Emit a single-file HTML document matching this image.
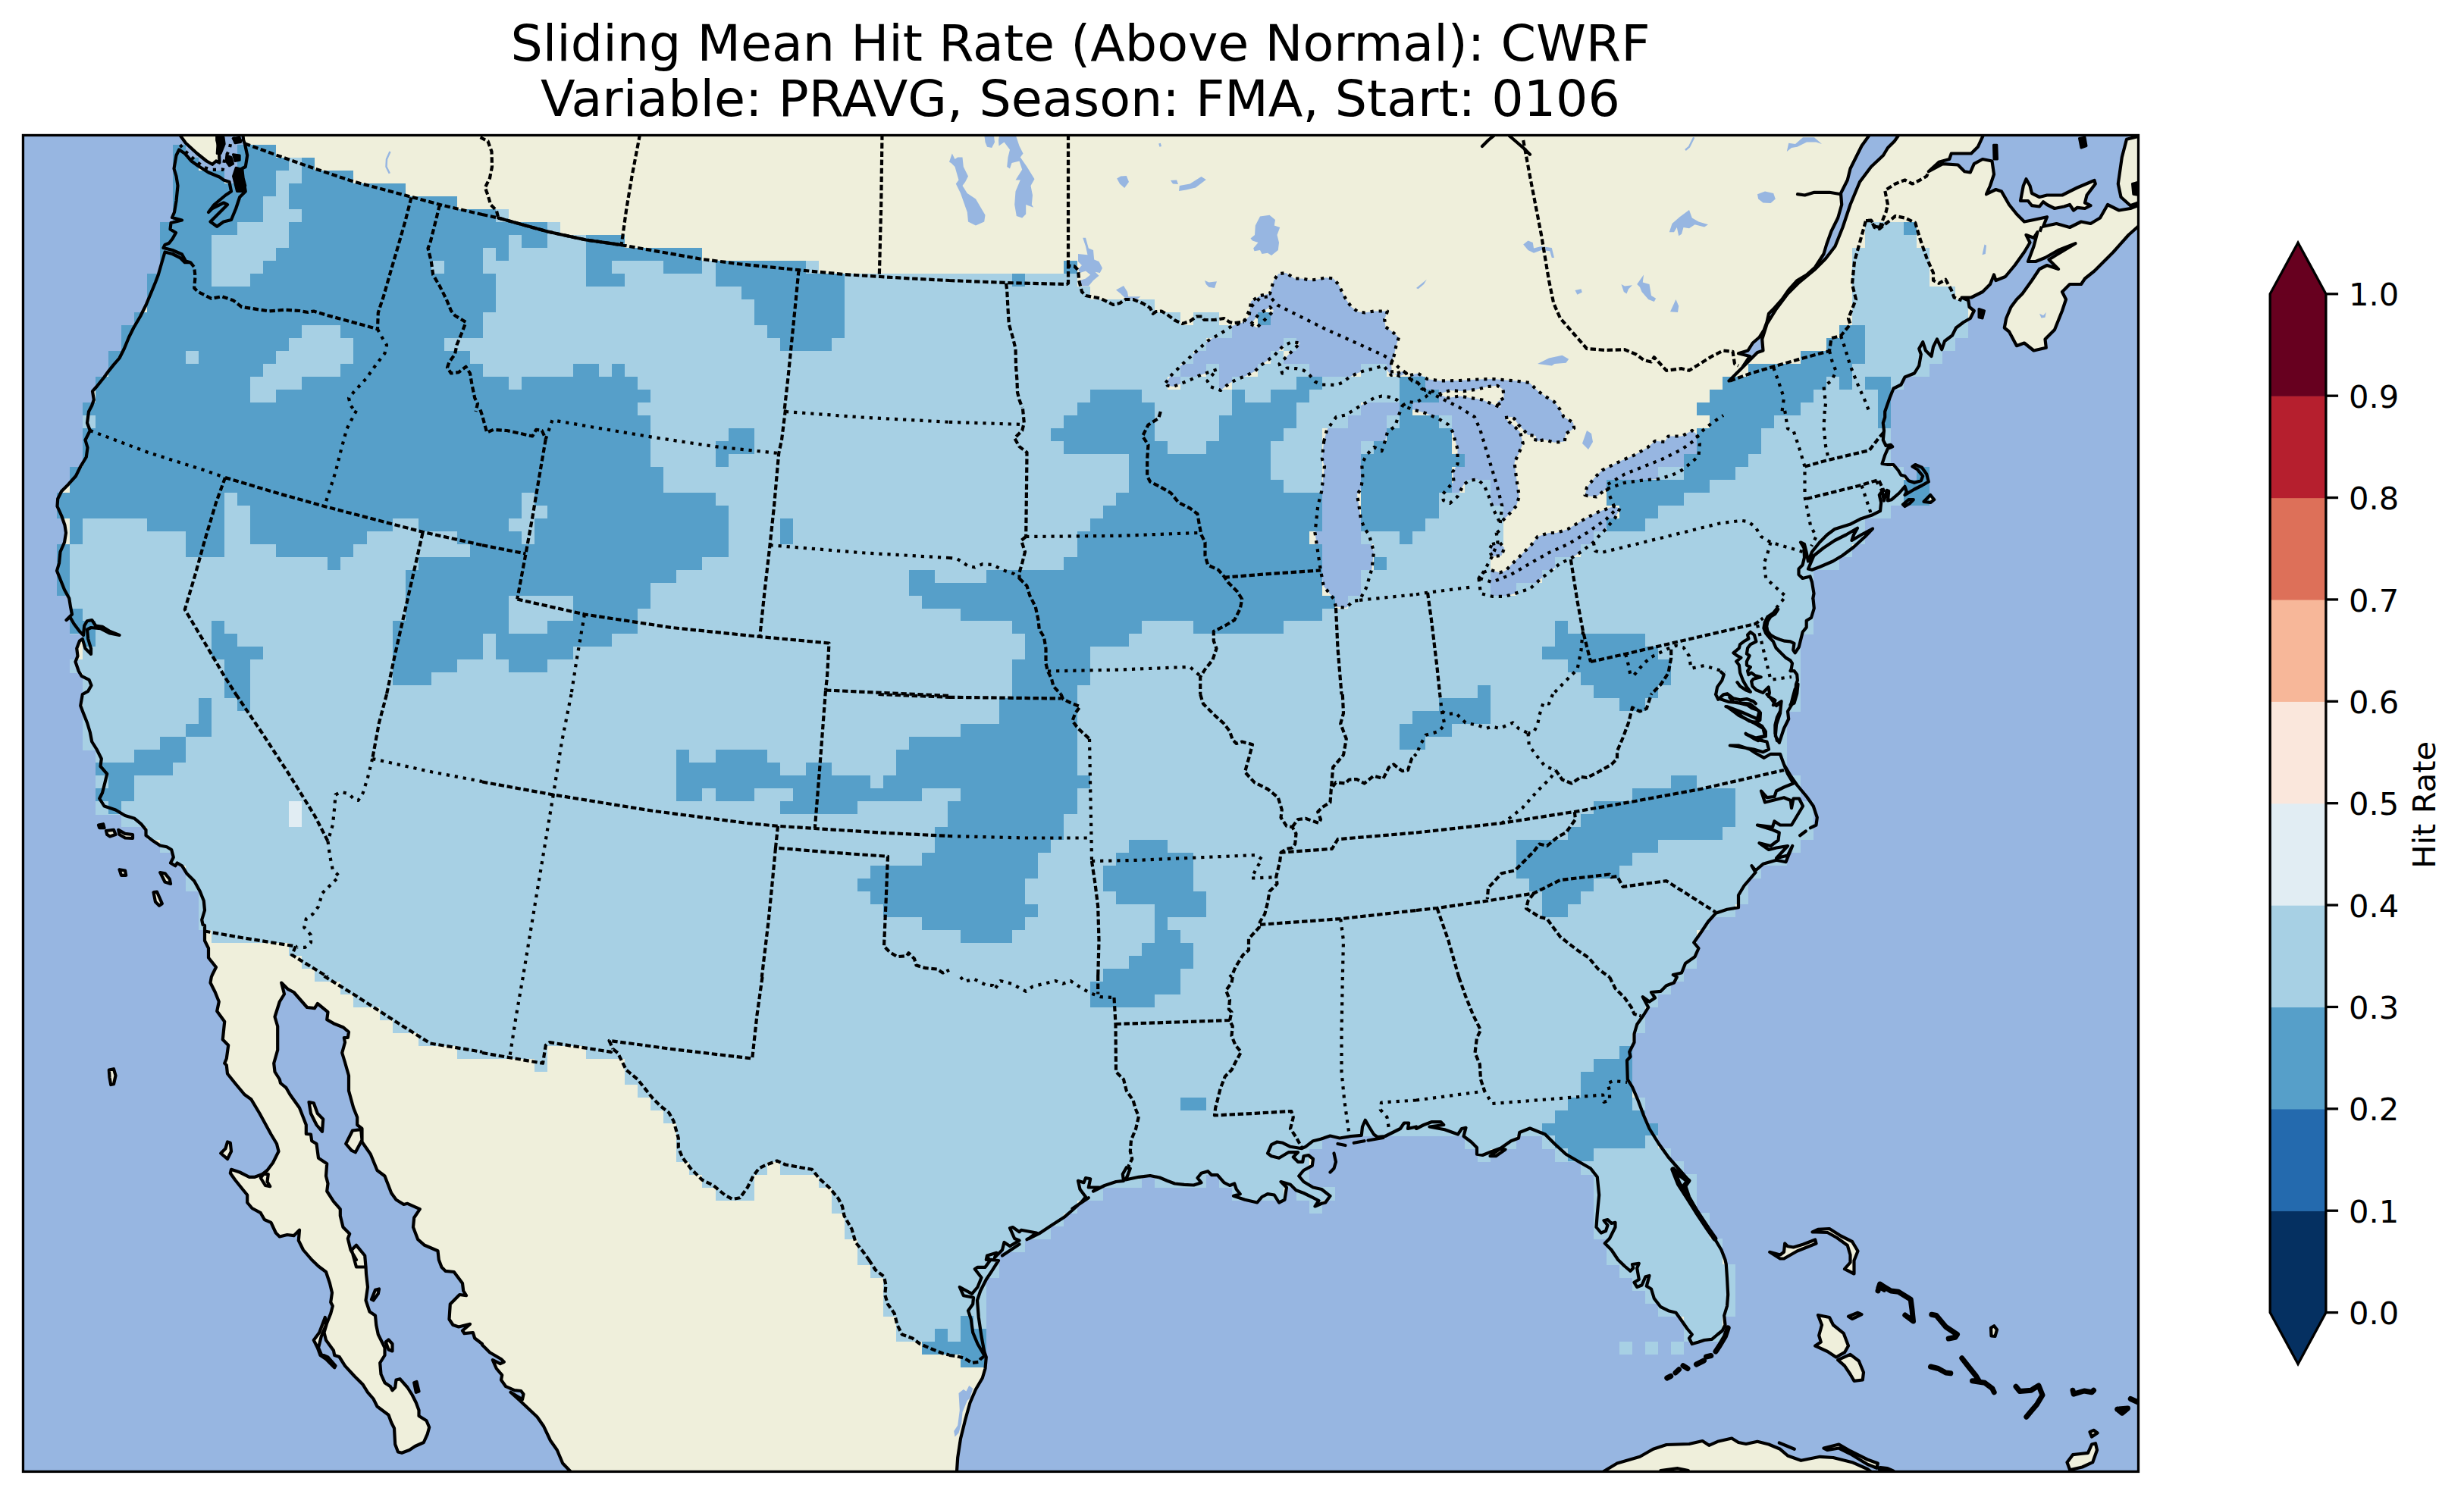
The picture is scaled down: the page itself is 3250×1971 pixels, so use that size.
<!DOCTYPE html>
<html><head><meta charset="utf-8"><title>Sliding Mean Hit Rate</title>
<style>
html,body{margin:0;padding:0;background:#fff;}
body{width:3250px;height:1971px;overflow:hidden;}
svg{display:block;}
text{font-family:"DejaVu Sans","Liberation Sans",sans-serif;fill:#000;}
.coast{fill:none;stroke:#000;stroke-width:4.2;stroke-linejoin:round;stroke-linecap:round;}
.state{fill:none;stroke:#000;stroke-width:4.2;stroke-dasharray:4.2 6.9;stroke-linejoin:round;}
.border{fill:none;stroke:#000;stroke-width:4.2;stroke-dasharray:7.4 3.65;stroke-linejoin:round;}
</style></head><body>
<svg width="3250" height="1971" viewBox="0 0 3250 1971">
<rect x="0" y="0" width="3250" height="1971" fill="#fff"/>
<text x="1425" y="80" font-size="66.67" text-anchor="middle">Sliding Mean Hit Rate (Above Normal): CWRF</text>
<text x="1425" y="153" font-size="66.67" text-anchor="middle">Variable: PRAVG, Season: FMA, Start: 0106</text>
<defs><clipPath id="mapclip"><rect x="30.45" y="178.45" width="2790.05" height="1763.0"/></clipPath></defs>
<g clip-path="url(#mapclip)">
<rect x="30.45" y="178.45" width="2790.05" height="1763.0" fill="#97b6e1"/>
<path d="M320.0 175.0 L321.2 185.0 L323.0 190.0 L326.2 205.0 L323.8 220.0 L316.2 223.8 L318.8 232.5 L322.5 245.0 L323.8 252.5 L316.2 260.0 L311.2 275.0 L305.0 290.0 L295.0 292.5 L286.2 298.8 L277.5 292.5 L285.0 285.0 L300.0 270.0 L295.0 267.5 L280.0 275.0 L275.0 280.0 L282.5 270.0 L297.5 257.5 L305.0 252.5 L302.5 240.0 L295.0 237.5 L290.0 233.8 L275.0 227.5 L261.2 218.8 L252.5 212.5 L243.8 202.5 L236.2 197.5 L232.5 205.0 L229.5 222.5 L232.5 232.5 L234.5 245.0 L232.5 265.0 L230.0 280.0 L227.0 287.0 L240.0 290.5 L225.5 294.0 L224.5 302.5 L232.0 307.0 L227.5 315.0 L223.0 320.8 L217.5 323.0 L215.5 327.0 L227.5 330.0 L240.0 335.5 L245.0 344.5 L251.2 346.2 L243.8 346.2 L237.5 340.0 L227.5 335.0 L217.5 332.5 L213.8 345.0 L208.8 362.5 L205.0 372.5 L198.8 387.5 L192.5 402.5 L185.0 417.5 L176.2 432.5 L170.0 445.0 L163.8 460.0 L157.5 472.5 L150.0 481.2 L143.8 488.8 L137.5 497.5 L127.5 510.0 L122.0 516.2 L123.8 527.5 L121.2 535.0 L117.0 543.0 L117.0 543.0 L115.0 558.0 L118.8 568.0 L112.5 580.5 L115.5 590.5 L113.8 603.0 L106.2 615.5 L100.0 628.0 L90.0 639.2 L81.2 648.0 L76.2 658.0 L75.5 668.0 L81.2 680.5 L85.5 693.0 L87.0 703.0 L85.0 715.5 L79.5 728.0 L78.0 743.0 L75.0 753.0 L80.0 765.5 L85.0 778.0 L91.2 789.2 L93.0 800.5 L95.0 810.5 L87.5 818.0 L92.5 814.2 L97.5 823.0 L105.0 833.0 L110.0 838.0 L111.2 825.5 L115.0 819.2 L121.2 818.0 L126.2 825.5 L135.0 826.8 L145.0 833.0 L157.5 838.0 L145.0 835.5 L132.5 829.2 L120.0 828.0 L115.0 830.5 L116.2 843.0 L120.0 855.5 L120.0 863.0 L112.5 855.5 L108.8 843.0 L105.0 845.5 L101.2 855.5 L102.5 865.5 L99.5 873.0 L103.8 885.5 L107.5 891.8 L117.5 896.8 L120.5 904.2 L116.2 911.8 L108.8 916.0 L108.8 916.0 L106.2 931.0 L110.0 941.0 L115.0 953.5 L118.8 966.0 L121.2 978.5 L127.5 988.5 L133.8 1001.0 L132.5 1011.0 L141.2 1021.0 L138.8 1031.0 L135.0 1046.0 L131.2 1053.5 L137.5 1063.5 L152.5 1068.5 L165.0 1076.0 L177.5 1079.8 L186.2 1087.2 L192.5 1094.8 L192.5 1102.2 L202.5 1109.8 L211.2 1115.5 L220.0 1117.2 L226.2 1121.0 L228.8 1131.0 L225.0 1138.5 L231.2 1142.2 L233.8 1138.5 L240.0 1142.2 L246.2 1152.2 L256.2 1162.2 L263.8 1176.0 L268.8 1188.5 L270.0 1201.0 L266.2 1213.5 L267.5 1219.8 L270.0 1221.0 L270.0 1241.0 L275.0 1251.0 L275.0 1263.5 L285.0 1276.0 L280.0 1286.0 L278.8 1289.0 L278.8 1289.0 L277.5 1296.5 L283.8 1309.0 L288.8 1321.5 L286.2 1334.0 L296.2 1347.8 L293.8 1371.5 L301.2 1379.0 L298.8 1396.5 L296.2 1402.8 L298.8 1405.2 L300.0 1416.5 L310.0 1429.0 L322.5 1444.0 L331.2 1450.2 L342.5 1469.0 L357.5 1496.5 L365.0 1509.0 L367.5 1519.0 L360.0 1534.0 L352.5 1544.0 L346.2 1549.0 L336.2 1552.8 L328.8 1552.8 L316.2 1546.5 L305.0 1542.8 L303.8 1547.8 L310.0 1556.5 L320.0 1569.0 L326.2 1576.5 L326.2 1586.5 L332.5 1594.0 L343.8 1600.2 L348.8 1609.0 L357.5 1612.8 L363.8 1626.5 L368.8 1631.5 L378.8 1629.0 L387.5 1630.2 L395.0 1622.8 L393.8 1636.5 L400.0 1649.0 L411.2 1662.0 L411.2 1662.0 L420.0 1670.5 L430.0 1678.0 L435.0 1693.0 L438.0 1705.5 L436.2 1718.0 L438.8 1723.0 L436.2 1733.0 L431.2 1745.5 L427.5 1758.0 L430.0 1768.0 L440.0 1781.8 L441.2 1788.0 L447.5 1790.0 L455.0 1801.8 L467.5 1815.5 L478.8 1826.8 L485.0 1836.8 L492.5 1845.5 L497.5 1855.5 L512.5 1866.8 L516.2 1876.8 L520.0 1884.2 L521.2 1905.5 L525.0 1915.5 L530.0 1916.8 L540.0 1913.0 L547.5 1908.0 L558.8 1903.0 L563.8 1891.8 L566.2 1883.0 L562.5 1874.2 L552.5 1868.0 L552.5 1860.5 L548.8 1850.5 L543.8 1840.5 L537.5 1830.5 L527.5 1819.2 L522.5 1820.5 L521.2 1830.5 L517.5 1834.2 L515.0 1829.2 L507.5 1824.2 L502.5 1813.0 L501.2 1798.0 L507.5 1788.0 L507.5 1778.0 L503.8 1770.5 L498.8 1760.5 L496.2 1748.0 L495.0 1735.5 L487.5 1730.5 L482.5 1715.5 L485.0 1698.0 L483.0 1680.5 L482.5 1670.5 L470.0 1662.0 L462.5 1649.0 L458.8 1634.0 L461.2 1627.8 L452.5 1619.0 L448.8 1604.0 L448.8 1595.2 L440.0 1585.2 L431.2 1571.5 L432.5 1561.5 L430.0 1551.5 L431.2 1535.2 L420.0 1527.8 L417.5 1509.0 L411.2 1505.2 L410.0 1496.5 L403.8 1496.0 L403.8 1484.0 L395.0 1461.5 L382.5 1444.0 L377.5 1435.2 L370.0 1429.0 L368.8 1424.0 L362.5 1414.0 L361.2 1402.8 L366.2 1385.2 L366.2 1354.0 L362.5 1341.5 L368.8 1321.5 L375.0 1311.5 L371.2 1296.5 L380.0 1305.2 L387.5 1309.0 L405.0 1329.0 L415.0 1330.2 L418.8 1324.0 L432.5 1335.2 L431.2 1345.2 L440.0 1350.2 L452.5 1355.2 L460.0 1361.5 L458.8 1369.0 L453.8 1369.0 L455.0 1375.2 L451.2 1389.0 L455.0 1401.5 L460.0 1419.0 L460.0 1439.0 L466.2 1461.5 L471.2 1474.0 L471.2 1484.0 L477.5 1489.0 L477.5 1506.5 L488.8 1522.8 L497.5 1544.0 L507.5 1551.5 L516.2 1574.0 L522.5 1582.8 L532.5 1589.0 L537.5 1587.8 L553.8 1595.2 L546.2 1606.5 L545.0 1619.0 L551.2 1635.2 L560.0 1642.8 L577.5 1650.2 L578.8 1662.0 L578.8 1662.0 L582.5 1671.8 L587.5 1676.8 L598.8 1678.0 L610.0 1693.0 L611.2 1703.0 L615.0 1709.2 L606.2 1708.0 L593.8 1720.5 L592.5 1740.5 L597.5 1748.0 L605.0 1750.5 L620.0 1746.8 L610.0 1755.5 L612.5 1759.2 L623.8 1758.0 L626.2 1765.5 L636.0 1773.0 L636.0 1774.2 L646.0 1784.2 L661.0 1793.0 L664.8 1796.8 L659.8 1799.2 L649.8 1794.2 L654.8 1805.5 L662.2 1814.2 L661.0 1820.5 L667.2 1829.2 L678.5 1834.2 L687.2 1835.0 L690.5 1839.2 L689.0 1846.2 L673.5 1836.8 L686.0 1848.0 L708.5 1869.2 L717.2 1881.8 L726.0 1900.5 L734.8 1913.0 L742.2 1930.5 L752.2 1941.0 L761.0 1953.0 L1260.8 1953.0 L1262.0 1941.0 L1263.2 1923.0 L1267.0 1898.0 L1273.2 1873.0 L1279.5 1850.5 L1287.0 1833.0 L1295.8 1818.0 L1299.5 1805.5 L1300.8 1790.5 L1298.2 1783.0 L1294.5 1763.0 L1290.8 1738.0 L1289.0 1715.5 L1293.2 1703.0 L1300.8 1688.0 L1308.2 1676.8 L1317.0 1663.0 L1307.0 1661.8 L1300.8 1662.0 L1302.0 1656.5 L1314.5 1652.8 L1312.0 1659.0 L1322.0 1649.0 L1324.5 1639.0 L1332.0 1644.0 L1344.5 1636.5 L1338.2 1634.0 L1332.0 1620.2 L1335.8 1619.0 L1344.5 1625.2 L1347.0 1622.8 L1367.0 1626.5 L1357.0 1634.0 L1372.0 1626.5 L1387.0 1616.5 L1404.5 1605.2 L1414.5 1596.5 L1427.0 1585.2 L1432.0 1579.0 L1424.5 1569.0 L1422.0 1557.8 L1429.5 1560.2 L1432.0 1554.0 L1438.2 1555.2 L1435.8 1566.5 L1449.5 1566.5 L1442.0 1571.5 L1457.0 1564.0 L1472.0 1559.0 L1482.0 1557.8 L1480.8 1549.0 L1485.8 1540.2 L1490.8 1541.5 L1487.0 1551.5 L1484.5 1556.5 L1502.0 1552.8 L1517.0 1551.0 L1529.5 1553.5 L1539.5 1557.8 L1549.5 1561.5 L1562.0 1562.8 L1574.5 1563.5 L1584.5 1560.2 L1579.5 1554.0 L1584.5 1547.8 L1593.2 1545.2 L1598.2 1550.2 L1605.8 1550.2 L1614.5 1560.2 L1622.0 1564.0 L1628.2 1561.5 L1630.8 1569.0 L1635.8 1575.2 L1627.0 1577.8 L1642.0 1582.8 L1658.2 1586.5 L1664.5 1579.0 L1672.0 1575.2 L1680.8 1576.5 L1687.0 1586.5 L1694.5 1582.8 L1697.0 1566.5 L1689.5 1559.0 L1702.0 1562.8 L1709.5 1570.2 L1719.5 1574.0 L1732.0 1580.2 L1739.5 1584.0 L1734.5 1591.5 L1743.2 1587.8 L1748.2 1586.5 L1754.5 1577.8 L1743.2 1569.0 L1732.0 1566.5 L1719.5 1559.0 L1713.2 1551.5 L1719.5 1544.0 L1730.8 1537.8 L1732.0 1529.0 L1725.8 1524.0 L1719.5 1525.2 L1718.2 1532.8 L1712.0 1532.8 L1705.8 1526.5 L1712.0 1520.2 L1699.5 1520.2 L1687.0 1527.8 L1677.0 1525.2 L1672.0 1521.5 L1677.0 1510.2 L1684.5 1506.5 L1692.0 1507.8 L1702.0 1512.8 L1717.0 1515.2 L1722.0 1512.8 L1732.0 1505.2 L1742.0 1502.8 L1754.5 1498.5 L1767.0 1501.5 L1782.0 1499.0 L1795.8 1497.8 L1797.0 1486.5 L1800.8 1477.8 L1805.8 1486.5 L1812.0 1496.5 L1817.0 1500.2 L1827.0 1499.0 L1837.0 1494.0 L1847.0 1489.0 L1852.0 1481.5 L1858.2 1481.5 L1857.0 1489.0 L1868.0 1486.5 L1868.0 1489.0 L1878.0 1484.0 L1888.0 1480.2 L1900.5 1480.2 L1904.2 1484.0 L1885.5 1486.5 L1905.5 1490.2 L1923.0 1496.5 L1928.0 1489.0 L1933.5 1487.8 L1930.5 1499.0 L1940.5 1506.5 L1948.0 1514.0 L1948.0 1522.8 L1955.5 1524.0 L1968.0 1519.0 L1978.0 1515.2 L1985.5 1516.5 L1973.0 1525.2 L1965.5 1525.2 L1980.5 1514.0 L1993.0 1505.2 L2003.0 1501.5 L2004.2 1494.0 L2018.0 1488.5 L2038.0 1496.5 L2050.5 1509.0 L2065.5 1522.8 L2080.5 1531.5 L2098.0 1541.5 L2106.8 1552.8 L2109.2 1576.5 L2106.8 1601.5 L2105.5 1619.0 L2111.8 1626.5 L2118.0 1624.0 L2120.5 1616.5 L2115.5 1610.2 L2120.5 1609.0 L2125.5 1614.0 L2130.5 1612.8 L2130.5 1619.0 L2123.0 1634.0 L2116.8 1640.2 L2125.5 1649.0 L2134.2 1662.0 L2134.2 1662.0 L2143.0 1670.5 L2150.5 1676.8 L2154.2 1673.0 L2153.0 1668.0 L2161.8 1666.8 L2159.2 1673.0 L2161.8 1688.0 L2155.5 1691.8 L2159.2 1698.0 L2165.5 1695.5 L2170.5 1684.2 L2175.5 1683.0 L2171.8 1696.8 L2178.0 1700.5 L2181.8 1713.0 L2190.5 1724.2 L2200.5 1729.2 L2210.5 1731.8 L2216.8 1740.5 L2225.5 1753.0 L2231.8 1760.5 L2228.0 1765.5 L2231.8 1773.0 L2240.5 1770.5 L2248.0 1768.0 L2258.0 1766.8 L2265.5 1760.5 L2271.8 1755.5 L2275.5 1748.0 L2274.2 1735.5 L2278.0 1723.0 L2279.2 1708.0 L2278.0 1685.5 L2276.8 1668.0 L2275.5 1662.0 L2270.5 1649.0 L2263.0 1636.5 L2253.0 1621.5 L2238.0 1596.5 L2228.0 1579.0 L2223.0 1564.0 L2228.0 1557.8 L2218.0 1546.5 L2200.5 1526.5 L2188.0 1509.0 L2175.5 1489.0 L2168.0 1471.5 L2160.5 1451.5 L2153.0 1434.0 L2146.8 1424.0 L2146.0 1399.0 L2150.5 1394.0 L2149.2 1387.8 L2155.5 1375.2 L2155.5 1364.0 L2159.2 1351.5 L2168.0 1339.0 L2174.2 1329.0 L2166.8 1315.2 L2175.5 1321.5 L2183.0 1316.5 L2178.0 1309.0 L2190.5 1307.8 L2198.0 1300.2 L2208.0 1296.5 L2211.8 1289.0 L2206.8 1286.0 L2218.0 1283.5 L2223.0 1271.0 L2235.5 1262.2 L2240.5 1251.0 L2234.2 1243.5 L2243.0 1231.0 L2253.0 1216.0 L2263.0 1204.8 L2278.0 1199.8 L2293.0 1197.2 L2293.0 1181.0 L2300.5 1168.5 L2315.5 1151.0 L2310.5 1142.2 L2315.5 1148.5 L2325.5 1139.8 L2343.0 1134.8 L2355.5 1137.2 L2364.2 1116.0 L2358.0 1128.5 L2343.0 1132.2 L2358.0 1116.0 L2343.0 1118.5 L2333.0 1121.0 L2320.5 1112.2 L2335.5 1116.0 L2345.5 1108.5 L2346.8 1098.5 L2338.0 1094.8 L2318.0 1088.5 L2338.0 1091.0 L2340.5 1083.5 L2348.0 1088.5 L2363.0 1088.5 L2370.5 1076.0 L2378.0 1063.5 L2373.0 1053.5 L2365.5 1053.5 L2363.0 1066.0 L2361.8 1056.0 L2353.0 1052.2 L2343.0 1054.8 L2328.0 1058.5 L2323.0 1043.5 L2330.5 1052.2 L2340.5 1051.0 L2343.0 1043.5 L2353.0 1038.5 L2365.5 1033.5 L2358.0 1021.0 L2353.0 1008.5 L2346.8 979.8 L2353.0 961.0 L2359.2 948.5 L2358.0 938.5 L2365.5 926.0 L2368.0 916.0 L2368.2 916.2 L2369.0 902.7 L2370.9 897.6 L2370.2 890.1 L2366.5 885.1 L2361.5 885.1 L2367.7 861.3 L2372.7 853.8 L2375.2 843.8 L2377.7 833.8 L2382.7 827.6 L2382.7 818.8 L2389.0 815.0 L2392.8 802.5 L2391.5 790.0 L2391.2 790.0 L2392.5 783.0 L2390.0 768.0 L2387.5 760.5 L2377.5 763.0 L2372.5 758.0 L2372.5 750.5 L2377.5 745.5 L2380.0 735.5 L2379.5 723.0 L2375.0 715.5 L2380.0 718.0 L2382.5 728.0 L2385.0 740.5 L2390.0 728.0 L2400.0 715.5 L2410.0 705.5 L2420.0 698.0 L2440.0 691.8 L2455.0 684.2 L2470.0 679.2 L2480.0 674.2 L2481.2 663.0 L2478.8 653.0 L2482.5 648.0 L2485.0 660.5 L2488.8 646.8 L2491.2 648.0 L2490.0 660.5 L2495.0 659.2 L2505.0 650.5 L2512.5 641.8 L2515.0 649.2 L2512.5 653.0 L2525.0 645.5 L2535.0 640.5 L2543.8 635.5 L2541.2 625.5 L2535.0 616.8 L2526.2 613.0 L2522.5 615.5 L2528.8 619.2 L2536.2 628.0 L2533.8 634.2 L2525.0 636.8 L2517.5 634.2 L2512.5 628.0 L2507.5 626.8 L2503.8 620.5 L2497.5 613.0 L2490.0 613.0 L2482.5 611.8 L2486.2 600.5 L2490.0 591.8 L2496.2 589.2 L2493.8 586.8 L2487.5 588.0 L2483.8 580.5 L2485.0 568.0 L2483.8 558.0 L2486.2 550.5 L2486.2 543.0 L2486.2 543.0 L2492.5 525.0 L2497.5 512.5 L2507.5 507.5 L2512.5 497.5 L2525.0 492.5 L2531.2 482.5 L2533.8 467.5 L2531.2 460.0 L2536.2 451.2 L2540.0 462.5 L2547.5 470.0 L2550.0 457.5 L2555.0 447.5 L2561.2 461.2 L2565.0 450.0 L2575.0 442.5 L2580.0 432.5 L2590.0 425.0 L2598.8 420.0 L2603.8 410.0 L2597.5 405.0 L2596.2 396.2 L2587.5 392.5 L2600.0 392.5 L2615.0 385.0 L2625.0 375.0 L2630.0 362.5 L2632.5 370.0 L2645.0 365.0 L2657.5 350.0 L2670.0 332.5 L2677.5 320.0 L2672.5 310.0 L2682.5 313.8 L2687.5 306.2 L2682.5 325.0 L2675.0 345.0 L2685.0 345.0 L2697.5 340.0 L2715.0 330.0 L2737.5 321.2 L2712.5 336.2 L2702.5 342.5 L2715.0 355.0 L2700.0 350.0 L2690.0 355.0 L2680.0 370.0 L2667.5 387.5 L2660.0 395.0 L2652.5 405.0 L2646.2 420.0 L2643.8 432.5 L2650.0 437.5 L2660.0 456.2 L2670.0 452.5 L2682.5 462.5 L2698.8 458.8 L2697.5 447.5 L2710.0 435.0 L2720.0 410.0 L2725.0 395.0 L2720.0 385.0 L2730.0 375.0 L2745.0 375.0 L2750.0 367.5 L2762.5 357.5 L2787.5 332.5 L2807.5 310.0 L2830.0 290.0 L2830.0 267.5 L2810.0 275.0 L2795.0 277.5 L2780.0 270.0 L2770.0 287.5 L2757.5 295.0 L2745.0 292.5 L2730.0 300.0 L2712.5 295.0 L2695.0 298.8 L2700.0 286.2 L2682.5 290.0 L2670.0 292.5 L2660.0 282.5 L2650.0 270.0 L2640.0 252.5 L2632.5 250.0 L2620.0 256.2 L2625.0 245.0 L2630.0 230.0 L2627.5 212.5 L2615.0 210.0 L2603.8 216.2 L2598.8 227.5 L2591.2 226.2 L2582.5 217.5 L2562.5 216.2 L2543.8 226.2 L2557.5 213.8 L2571.2 210.0 L2573.8 202.5 L2600.0 202.5 L2608.8 193.8 L2617.5 175.0 L2507.5 173.8 L2498.8 186.2 L2490.0 195.0 L2484.0 205.0 L2468.0 220.0 L2453.0 240.0 L2440.5 270.0 L2430.5 300.0 L2420.5 325.0 L2408.0 341.2 L2393.0 356.2 L2373.0 372.5 L2358.0 387.5 L2343.0 407.5 L2330.5 427.5 L2324.2 447.5 L2325.5 462.5 L2318.0 465.0 L2303.0 480.0 L2280.5 502.5 L2280.5 502.5 L2298.0 485.0 L2308.0 470.0 L2293.0 466.2 L2305.5 462.5 L2311.8 452.5 L2320.5 445.0 L2326.8 435.0 L2330.5 425.0 L2333.0 413.8 L2340.5 406.2 L2350.5 395.0 L2359.2 382.5 L2370.5 370.0 L2383.0 362.5 L2394.2 352.5 L2405.5 335.0 L2409.2 322.5 L2415.5 305.0 L2424.2 287.5 L2429.2 270.0 L2428.0 255.0 L2436.8 237.5 L2440.5 222.5 L2448.0 207.5 L2455.5 192.5 L2468.0 175.0Z" fill="#efefdb"/>
<path d="M235.0 175.0 L245.0 188.8 L260.0 202.5 L272.5 212.5 L280.0 216.8 L285.0 212.5 L289.5 214.5 L288.8 195.0 L286.2 185.0 L286.2 175.0Z" fill="#efefdb"/>
<path d="M2665.0 265.0 L2668.8 245.0 L2672.5 236.2 L2677.5 245.0 L2680.0 255.0 L2690.0 260.0 L2700.0 257.5 L2720.0 257.5 L2740.0 247.5 L2762.5 238.0 L2763.8 242.5 L2752.5 257.5 L2750.0 267.5 L2757.5 271.2 L2750.0 275.0 L2740.0 273.8 L2735.0 277.5 L2730.0 270.0 L2722.5 272.5 L2710.0 275.0 L2700.0 270.0 L2695.0 266.2 L2690.0 272.5 L2680.0 271.2 L2675.0 265.0Z" fill="#efefdb"/>
<path d="M2830.0 177.5 L2805.0 183.8 L2798.8 207.5 L2793.8 242.5 L2797.5 260.0 L2810.0 271.2 L2830.0 263.8Z" fill="#efefdb"/>
<path d="M2105.5 1953.0 L2115.5 1941.0 L2133.0 1930.5 L2163.0 1921.8 L2180.5 1911.8 L2198.0 1906.0 L2228.0 1905.0 L2245.5 1901.0 L2254.2 1906.8 L2265.5 1901.8 L2284.2 1897.5 L2293.0 1903.0 L2303.0 1905.0 L2318.0 1901.8 L2333.0 1905.5 L2348.0 1911.8 L2358.0 1920.5 L2375.5 1926.8 L2400.5 1921.8 L2418.0 1923.0 L2443.0 1929.2 L2463.0 1938.0 L2473.0 1945.5 L2493.0 1953.0Z" fill="#efefdb"/>
<path d="M2405.5 1910.5 L2425.5 1905.5 L2440.5 1914.2 L2463.0 1925.5 L2476.8 1930.5 L2475.5 1936.8 L2463.0 1931.8 L2440.5 1918.0 L2425.5 1910.5 L2410.5 1913.0Z" fill="#efefdb"/>
<path d="M2385.0 750.5 L2392.5 733.0 L2405.0 723.0 L2420.0 713.0 L2435.0 705.5 L2450.0 696.8 L2445.0 705.5 L2442.5 713.0 L2455.0 705.5 L2470.0 697.5 L2460.0 708.0 L2445.0 721.8 L2430.0 733.0 L2417.5 740.5 L2400.0 748.0 L2390.0 751.8Z" fill="#efefdb"/>
<path d="M2334.2 1651.8 L2348.0 1660.5 L2353.0 1660.5 L2370.5 1650.5 L2395.5 1640.5 L2394.2 1635.5 L2378.0 1641.8 L2365.5 1645.5 L2358.0 1644.2 L2354.2 1640.5 L2353.0 1651.8 L2348.0 1655.5Z" fill="#efefdb"/>
<path d="M2390.5 1625.5 L2398.0 1621.8 L2413.0 1621.0 L2428.0 1630.5 L2443.0 1638.0 L2450.5 1650.5 L2445.5 1663.0 L2445.5 1680.5 L2433.0 1674.2 L2440.5 1665.5 L2440.5 1655.5 L2436.8 1643.0 L2423.0 1633.0 L2410.5 1626.0 L2395.5 1625.5Z" fill="#efefdb"/>
<path d="M2398.0 1735.0 L2413.0 1738.0 L2418.0 1748.0 L2431.8 1759.2 L2438.0 1775.5 L2433.0 1784.2 L2421.8 1790.5 L2410.5 1783.0 L2394.2 1775.5 L2401.8 1770.5 L2399.2 1761.8 L2403.0 1748.0Z" fill="#efefdb"/>
<path d="M2424.2 1794.2 L2440.5 1786.8 L2451.8 1795.5 L2458.0 1810.5 L2456.8 1820.5 L2445.5 1821.8 L2440.5 1813.0 L2433.0 1801.8Z" fill="#efefdb"/>
<path d="M2438.0 1736.8 L2450.5 1731.8 L2455.5 1734.2 L2443.0 1740.0Z" fill="#efefdb"/>
<path d="M2476.8 1698.0 L2480.5 1693.0 L2485.5 1696.8 L2485.5 1703.0Z" fill="#efefdb"/>
<path d="M143.8 1411.5 L150.0 1410.2 L152.5 1419.0 L150.0 1430.2 L146.2 1431.0 L144.5 1421.5Z" fill="#efefdb"/>
<path d="M291.2 1521.5 L297.5 1515.2 L300.0 1506.5 L303.8 1507.8 L305.0 1519.0 L300.0 1529.0Z" fill="#efefdb"/>
<path d="M407.5 1454.0 L413.8 1455.2 L418.8 1469.0 L426.2 1476.5 L425.0 1492.8 L417.5 1484.0 L410.0 1469.0Z" fill="#efefdb"/>
<path d="M456.2 1509.0 L465.0 1491.5 L476.2 1490.2 L477.5 1504.0 L468.8 1520.2 L463.8 1517.8Z" fill="#efefdb"/>
<path d="M343.8 1554.0 L347.5 1549.0 L353.8 1549.0 L352.5 1559.0 L356.2 1565.2 L350.0 1564.0Z" fill="#efefdb"/>
<path d="M463.8 1649.0 L470.0 1642.8 L481.2 1656.5 L482.5 1671.5 L470.0 1671.5Z" fill="#efefdb"/>
<path d="M413.8 1768.0 L421.2 1758.0 L428.8 1738.0 L430.0 1748.0 L423.8 1763.0 L420.0 1778.0 L423.8 1786.8 L432.5 1790.5 L442.5 1801.8 L441.2 1804.2 L430.0 1793.0 L422.5 1788.0 L418.8 1778.0Z" fill="#efefdb"/>
<path d="M490.0 1714.2 L495.0 1701.8 L500.0 1700.5 L498.8 1706.8 L492.5 1715.5Z" fill="#efefdb"/>
<path d="M508.8 1770.5 L512.5 1767.5 L517.5 1773.0 L517.5 1782.5 L512.5 1780.5Z" fill="#efefdb"/>
<path d="M546.2 1824.2 L549.5 1823.0 L552.5 1835.5 L548.8 1836.8Z" fill="#efefdb"/>
<path d="M2510.0 665.5 L2517.5 659.2 L2523.8 659.2 L2518.8 664.2 L2512.5 668.0Z" fill="#efefdb"/>
<path d="M2537.5 661.8 L2546.2 653.0 L2551.2 659.2 L2546.2 663.0Z" fill="#efefdb"/>
<path d="M2626.0 1751.8 L2630.2 1749.2 L2634.0 1754.2 L2631.5 1763.0 L2626.5 1762.5Z" fill="#efefdb"/>
<path d="M2756.5 1889.2 L2761.5 1886.8 L2766.5 1890.5 L2759.0 1895.5Z" fill="#efefdb"/>
<path d="M2726.5 1929.2 L2734.0 1919.2 L2744.0 1918.0 L2754.0 1916.8 L2759.0 1905.5 L2764.0 1904.2 L2766.0 1913.0 L2760.2 1929.2 L2746.5 1935.5 L2730.2 1939.2Z" fill="#efefdb"/>
<path d="M130.0 1088.5 L136.2 1087.2 L137.5 1092.2 L131.2 1092.2Z" fill="#efefdb"/>
<path d="M140.0 1096.0 L150.0 1094.8 L152.5 1101.0 L145.0 1103.5 L141.2 1101.0Z" fill="#efefdb"/>
<path d="M156.2 1094.8 L165.0 1099.8 L175.0 1101.0 L175.0 1106.0 L165.0 1105.5 L157.5 1101.0Z" fill="#efefdb"/>
<path d="M157.5 1147.2 L165.0 1148.5 L166.2 1154.8 L160.0 1154.8Z" fill="#efefdb"/>
<path d="M211.2 1151.0 L217.5 1152.2 L223.8 1159.8 L225.0 1166.0 L217.5 1163.5 L213.8 1156.0Z" fill="#efefdb"/>
<path d="M202.5 1177.2 L207.0 1176.5 L213.8 1192.2 L210.0 1194.8 L205.0 1189.8Z" fill="#efefdb"/>
<path d="M1537.5 505.0 L1545.0 495.0 L1560.0 480.0 L1575.0 466.2 L1592.5 450.0 L1610.0 440.0 L1625.0 430.0 L1637.5 426.2 L1647.5 417.5 L1650.0 397.5 L1662.5 390.0 L1675.0 387.5 L1680.0 370.0 L1686.2 361.2 L1696.2 360.0 L1707.5 367.5 L1717.5 367.5 L1727.5 369.5 L1737.5 368.8 L1748.8 366.2 L1758.8 367.5 L1766.2 376.2 L1771.2 387.5 L1776.2 396.2 L1782.5 405.0 L1791.2 411.2 L1800.0 412.5 L1812.5 410.5 L1830.0 410.5 L1826.2 421.2 L1827.5 431.2 L1836.2 437.5 L1845.0 445.0 L1841.2 457.5 L1838.8 468.8 L1835.0 480.0 L1836.2 492.5 L1846.2 496.2 L1855.0 492.5 L1850.0 490.0 L1835.0 495.0 L1825.0 482.5 L1812.5 486.2 L1800.0 488.8 L1790.0 492.5 L1780.0 497.5 L1770.0 505.0 L1762.5 508.0 L1752.5 507.5 L1743.8 507.5 L1735.0 503.8 L1727.5 495.0 L1720.0 488.8 L1710.0 486.2 L1697.5 485.5 L1691.2 492.5 L1687.5 480.0 L1697.5 470.0 L1715.0 452.5 L1703.8 451.2 L1692.5 456.2 L1680.0 470.0 L1672.5 475.0 L1662.5 482.5 L1655.0 490.0 L1642.5 496.2 L1632.5 500.0 L1622.5 505.0 L1610.0 515.0 L1596.2 510.0 L1592.5 502.5 L1605.0 487.5 L1590.0 492.5 L1580.0 496.2 L1570.0 501.2 L1557.5 506.2 L1547.5 510.0 L1540.0 508.8Z" fill="#97b6e1"/>
<path d="M1746.2 582.5 L1750.0 567.5 L1762.5 550.0 L1775.0 547.5 L1795.0 535.0 L1812.5 525.0 L1822.5 522.5 L1832.5 523.8 L1842.5 527.5 L1850.0 535.0 L1845.0 547.5 L1840.0 562.5 L1830.0 570.0 L1827.5 580.0 L1822.5 595.0 L1812.5 590.0 L1802.5 600.0 L1796.2 612.5 L1797.5 630.0 L1795.0 645.0 L1790.0 652.5 L1792.5 667.5 L1795.0 685.0 L1800.0 697.5 L1805.8 705.5 L1812.0 728.0 L1809.5 750.5 L1802.0 775.5 L1793.2 791.8 L1784.5 793.0 L1775.8 801.8 L1762.0 800.5 L1759.5 790.5 L1745.8 773.0 L1742.0 753.0 L1738.2 728.0 L1734.5 703.0 L1738.2 668.0 L1743.2 648.0 L1747.0 615.5 L1743.8 605.0Z" fill="#97b6e1"/>
<path d="M1860.0 495.0 L1870.0 492.5 L1882.5 500.0 L1900.0 502.5 L1925.0 502.0 L1950.0 500.5 L1970.0 500.0 L1982.5 501.2 L2000.0 502.5 L2017.5 505.0 L2027.5 515.0 L2037.5 522.5 L2050.0 530.0 L2057.5 540.0 L2062.5 550.0 L2075.0 557.5 L2076.2 565.0 L2065.0 572.5 L2063.8 582.5 L2050.0 583.8 L2037.5 580.0 L2025.0 582.5 L2026.2 575.0 L2015.0 573.8 L2010.0 567.5 L2002.5 560.0 L1997.5 552.5 L1993.8 550.0 L1985.0 551.2 L1990.0 556.2 L1997.5 562.5 L2005.0 570.0 L2008.8 585.0 L2002.5 600.0 L1997.5 610.0 L2000.0 630.0 L2003.8 655.0 L2000.0 667.5 L1990.0 678.8 L1983.8 685.0 L1978.8 690.0 L1976.2 685.0 L1970.0 672.5 L1963.8 655.0 L1957.5 640.0 L1948.8 632.5 L1937.5 633.8 L1930.0 640.0 L1922.5 655.0 L1912.5 663.8 L1903.8 660.0 L1902.5 652.5 L1910.0 643.8 L1917.5 635.0 L1916.2 622.5 L1922.5 612.5 L1922.5 592.5 L1916.2 570.0 L1910.0 560.0 L1897.5 552.5 L1880.0 545.0 L1862.5 540.0 L1850.0 535.0 L1857.5 530.0 L1867.5 531.2 L1880.0 523.8 L1890.0 516.2 L1880.0 515.0 L1870.0 505.0 L1862.5 502.5Z" fill="#97b6e1"/>
<path d="M1968.0 718.0 L1978.0 715.5 L1984.2 723.0 L1980.5 733.0 L1968.0 734.2 L1964.2 725.5Z" fill="#97b6e1"/>
<path d="M1950.5 763.0 L1953.0 783.0 L1968.0 786.8 L1985.5 786.8 L1998.0 783.0 L2018.0 776.8 L2033.0 763.0 L2043.0 755.5 L2058.0 743.0 L2071.8 736.8 L2085.5 728.0 L2101.8 715.5 L2110.5 705.5 L2118.0 698.0 L2130.5 683.0 L2136.8 670.5 L2128.0 668.0 L2108.0 675.5 L2093.0 683.0 L2080.5 690.5 L2068.0 698.0 L2053.0 703.0 L2043.0 703.0 L2028.0 708.0 L2020.5 718.0 L2010.5 728.0 L1998.0 740.5 L1985.5 753.0 L1978.0 755.5 L1965.5 751.8 L1955.5 755.5Z" fill="#97b6e1"/>
<path d="M2090.5 653.0 L2094.2 654.2 L2105.5 655.5 L2118.0 645.5 L2143.0 636.8 L2168.0 633.5 L2188.0 631.8 L2205.5 626.8 L2218.0 620.5 L2230.5 610.5 L2240.5 601.8 L2241.8 585.5 L2238.0 573.0 L2231.8 568.0 L2218.0 575.5 L2200.5 575.5 L2195.5 583.0 L2183.0 581.8 L2173.0 590.5 L2155.5 600.5 L2138.0 608.0 L2123.0 615.5 L2113.0 620.5 L2103.0 630.5 L2093.0 643.0Z" fill="#97b6e1"/>
<path d="M1255.8 202.5 L1259.5 210.0 L1263.2 207.5 L1269.5 207.5 L1270.8 220.0 L1277.0 232.5 L1273.2 240.0 L1269.5 245.0 L1275.8 255.0 L1287.0 262.5 L1299.5 283.8 L1298.2 292.5 L1287.0 297.5 L1277.0 292.5 L1275.8 280.0 L1267.0 255.0 L1260.8 242.5 L1264.5 237.5 L1259.5 220.0 L1254.5 215.0 L1252.0 213.8Z" fill="#97b6e1"/>
<path d="M1318.2 177.5 L1339.5 177.5 L1344.5 192.5 L1349.5 202.5 L1345.8 207.5 L1354.5 220.0 L1364.5 236.2 L1359.5 245.0 L1362.0 257.5 L1360.8 270.0 L1363.2 273.8 L1353.2 270.0 L1353.2 282.5 L1348.2 287.5 L1340.8 285.0 L1338.2 270.0 L1339.5 252.5 L1345.8 237.5 L1339.5 237.5 L1348.2 223.8 L1344.5 212.5 L1334.5 215.0 L1332.0 222.5 L1328.2 220.0 L1329.5 207.5 L1332.0 197.5 L1324.5 187.5 L1317.5 192.5 L1317.0 185.0Z" fill="#97b6e1"/>
<path d="M1298.2 177.5 L1310.8 177.5 L1312.0 187.5 L1308.2 195.0 L1302.0 193.8 L1299.5 187.5Z" fill="#97b6e1"/>
<path d="M1473.2 235.5 L1478.2 232.5 L1485.8 232.0 L1489.0 240.0 L1483.2 248.0 L1477.0 242.5Z" fill="#97b6e1"/>
<path d="M1544.0 238.0 L1552.0 237.5 L1554.0 243.0 L1547.0 242.5Z" fill="#97b6e1"/>
<path d="M1555.8 245.0 L1569.5 242.5 L1584.5 233.0 L1590.8 237.0 L1577.0 247.5 L1564.5 250.5 L1555.0 252.0Z" fill="#97b6e1"/>
<path d="M1528.2 189.5 L1530.8 188.8 L1532.0 193.0 L1529.5 193.8Z" fill="#97b6e1"/>
<path d="M1662.0 285.5 L1674.5 283.8 L1682.0 290.0 L1680.8 297.5 L1688.2 300.0 L1684.5 310.0 L1687.0 320.0 L1685.8 330.0 L1677.0 337.0 L1672.0 333.8 L1664.5 335.0 L1662.0 330.0 L1654.5 331.2 L1653.2 327.5 L1659.5 320.0 L1652.0 317.5 L1649.5 314.5 L1655.0 310.0 L1655.8 297.5Z" fill="#97b6e1"/>
<path d="M1428.2 313.8 L1432.0 313.8 L1435.8 327.5 L1442.0 330.0 L1443.2 342.5 L1449.5 345.0 L1454.0 353.8 L1450.8 360.0 L1444.5 358.8 L1449.5 363.8 L1442.0 370.0 L1435.8 377.5 L1427.0 377.5 L1424.5 370.0 L1432.0 367.5 L1438.2 362.5 L1432.0 357.5 L1424.5 360.0 L1422.0 355.0 L1427.0 350.0 L1422.0 345.0 L1422.0 335.0 L1434.5 336.2 L1432.0 325.0Z" fill="#97b6e1"/>
<path d="M1472.0 382.5 L1482.0 377.0 L1487.0 385.0 L1488.2 391.2 L1504.5 391.2 L1499.5 395.0 L1484.5 393.8 L1478.2 387.5Z" fill="#97b6e1"/>
<path d="M1589.0 370.0 L1594.5 372.5 L1605.0 371.2 L1602.0 380.0 L1594.5 378.8 L1590.8 375.0Z" fill="#97b6e1"/>
<path d="M2318.0 256.2 L2328.0 252.5 L2339.2 255.0 L2341.8 262.5 L2335.5 268.0 L2325.5 267.5 L2319.2 262.5Z" fill="#97b6e1"/>
<path d="M2201.8 306.2 L2205.5 295.0 L2215.5 286.2 L2228.0 277.0 L2231.8 287.5 L2240.5 292.5 L2253.0 296.2 L2248.0 299.5 L2235.5 296.2 L2228.0 301.2 L2220.5 300.0 L2218.0 308.8 L2214.2 311.2 L2211.8 300.0 L2208.0 306.2Z" fill="#97b6e1"/>
<path d="M2009.2 322.5 L2015.5 317.5 L2021.8 320.0 L2023.0 327.5 L2033.0 325.0 L2046.8 327.0 L2050.0 340.0 L2046.8 340.0 L2044.2 331.2 L2033.0 330.0 L2023.0 333.8 L2015.5 330.0Z" fill="#97b6e1"/>
<path d="M2077.5 383.0 L2085.5 381.2 L2086.8 385.5 L2080.5 388.8Z" fill="#97b6e1"/>
<path d="M2138.5 375.0 L2143.0 377.5 L2153.0 376.2 L2148.0 381.2 L2145.5 387.5 L2141.8 385.0Z" fill="#97b6e1"/>
<path d="M2159.2 375.0 L2168.0 362.5 L2166.8 372.5 L2175.5 375.0 L2178.0 390.0 L2184.2 393.8 L2181.8 398.0 L2174.2 395.0 L2165.5 385.0 L2163.0 378.8Z" fill="#97b6e1"/>
<path d="M2203.0 411.2 L2210.5 395.0 L2214.2 403.8 L2213.0 412.0Z" fill="#97b6e1"/>
<path d="M2028.0 480.0 L2043.0 472.5 L2060.5 468.8 L2069.2 473.8 L2065.5 478.8 L2050.5 480.0 L2046.8 482.5 L2038.0 481.2Z" fill="#97b6e1"/>
<path d="M2356.8 200.0 L2359.2 188.8 L2368.0 190.0 L2378.0 181.2 L2393.0 181.2 L2403.0 190.0 L2395.5 187.5 L2383.0 187.5 L2370.5 193.8 L2363.0 195.0Z" fill="#97b6e1"/>
<path d="M1868.0 380.0 L1881.8 368.8 L1878.0 375.0 L1870.5 381.2Z" fill="#97b6e1"/>
<path d="M2614.5 336.2 L2617.5 322.5 L2620.0 323.8 L2618.8 335.0Z" fill="#97b6e1"/>
<path d="M2690.0 413.8 L2695.0 416.2 L2698.8 412.0 L2697.5 418.8 L2692.5 419.5Z" fill="#97b6e1"/>
<path d="M1278.2 1828.0 L1283.2 1831.8 L1279.5 1844.2 L1275.8 1848.0 L1269.5 1863.0 L1268.2 1878.0 L1264.5 1890.5 L1259.5 1895.5 L1258.2 1888.0 L1263.2 1880.5 L1265.8 1860.5 L1264.5 1838.0 L1270.8 1833.0 L1274.5 1835.5Z" fill="#97b6e1"/>
<path d="M2087.0 585.0 L2093.0 568.0 L2099.0 572.0 L2101.0 583.0 L2095.0 593.0Z" fill="#97b6e1"/>
<path d="M514.5 200.0 L510.0 210.0 L509.5 220.0 L513.8 228.8" fill="none" stroke="#97b6e1" stroke-width="2.5"/>
<path d="M2223.0 198.0 L2228.0 193.8 L2234.2 181.2" fill="none" stroke="#97b6e1" stroke-width="2.5"/>
<path d="M1897.5 520.0 L1912.5 515.0 L1930.0 516.2 L1947.5 513.8 L1962.5 510.0 L1975.0 508.8 L1982.5 513.8 L1983.8 525.0 L1975.0 530.0 L1980.0 537.5 L1970.0 533.8 L1955.0 527.5 L1940.0 525.0 L1925.0 522.5 L1910.0 525.0Z" fill="#efefdb"/>
<path d="M1650.0 427.5 L1660.0 415.0 L1675.0 405.0 L1680.0 410.0 L1670.0 420.0 L1657.5 432.5Z" fill="#efefdb"/>
<path d="M227.9 191.4H245.0V208.7H227.9ZM313.1 191.4H364.2V208.7H313.1ZM227.9 208.3H262.0V225.7H227.9ZM313.1 208.3H415.3V225.7H313.1ZM227.9 225.3H296.1V242.7H227.9ZM313.1 225.3H466.4V242.7H313.1ZM227.9 242.3H534.6V259.7H227.9ZM227.9 259.3H602.7V276.6H227.9ZM227.9 276.2H670.9V293.6H227.9ZM210.9 293.2H739.0V310.6H210.9ZM2459.7 293.2H2527.8V310.6H2459.7ZM210.9 310.2H824.2V327.6H210.9ZM2459.7 310.2H2527.8V327.6H2459.7ZM210.9 327.2H926.4V344.5H210.9ZM2442.6 327.2H2544.8V344.5H2442.6ZM210.9 344.1H1079.7V361.5H210.9ZM1403.4 344.1H1420.5V361.5H1403.4ZM2442.6 344.1H2544.8V361.5H2442.6ZM193.9 361.1H1420.5V378.5H193.9ZM2442.6 361.1H2544.8V378.5H2442.6ZM193.9 378.1H1437.5V395.5H193.9ZM2442.6 378.1H2578.9V395.5H2442.6ZM193.9 395.1H1522.7V412.4H193.9ZM2442.6 395.1H2595.9V412.4H2442.6ZM176.8 412.0H1556.8V429.4H176.8ZM1573.8 412.0H1607.9V429.4H1573.8ZM1659.0 412.0H1676.0V429.4H1659.0ZM2442.6 412.0H2595.9V429.4H2442.6ZM159.8 429.0H1624.9V446.4H159.8ZM2425.6 429.0H2595.9V446.4H2425.6ZM159.8 446.0H1590.8V463.4H159.8ZM1693.0 446.0H1710.1V463.4H1693.0ZM2408.6 446.0H2578.9V463.4H2408.6ZM142.8 463.0H1573.8V480.3H142.8ZM1676.0 463.0H1693.0V480.3H1676.0ZM2374.5 463.0H2561.9V480.3H2374.5ZM142.8 479.9H1556.8V497.3H142.8ZM1590.8 479.9H1607.9V497.3H1590.8ZM1659.0 479.9H1727.1V497.3H1659.0ZM1795.3 479.9H1829.3V497.3H1795.3ZM2306.3 479.9H2544.8V497.3H2306.3ZM125.7 496.9H1539.7V514.3H125.7ZM1556.8 496.9H1607.9V514.3H1556.8ZM1624.9 496.9H1880.4V514.3H1624.9ZM2272.3 496.9H2510.8V514.3H2272.3ZM125.7 513.9H1897.5V531.3H125.7ZM2255.2 513.9H2493.7V531.3H2255.2ZM108.7 530.9H1795.3V548.2H108.7ZM1846.4 530.9H1863.4V548.2H1846.4ZM2238.2 530.9H2493.7V548.2H2238.2ZM108.7 547.8H1778.2V565.2H108.7ZM1829.3 547.8H1914.5V565.2H1829.3ZM2255.2 547.8H2493.7V565.2H2255.2ZM108.7 564.8H1744.1V582.2H108.7ZM1829.3 564.8H1914.5V582.2H1829.3ZM2238.2 564.8H2493.7V582.2H2238.2ZM108.7 581.8H1744.1V599.2H108.7ZM1795.3 581.8H1914.5V599.2H1795.3ZM2238.2 581.8H2493.7V599.2H2238.2ZM108.7 598.8H1744.1V616.1H108.7ZM1795.3 598.8H1931.5V616.1H1795.3ZM2221.2 598.8H2493.7V616.1H2221.2ZM91.7 615.7H1744.1V633.1H91.7ZM1795.3 615.7H1914.5V633.1H1795.3ZM2187.1 615.7H2510.8V633.1H2187.1ZM2527.8 615.7H2544.8V633.1H2527.8ZM91.7 632.7H1744.1V650.1H91.7ZM1795.3 632.7H1914.5V650.1H1795.3ZM1931.5 632.7H1965.6V650.1H1931.5ZM2118.9 632.7H2544.8V650.1H2118.9ZM74.6 649.7H1744.1V667.1H74.6ZM1795.3 649.7H1965.6V667.1H1795.3ZM2118.9 649.7H2544.8V667.1H2118.9ZM74.6 666.7H1744.1V684.0H74.6ZM1795.3 666.7H1982.7V684.0H1795.3ZM2136.0 666.7H2493.7V684.0H2136.0ZM91.7 683.6H1744.1V701.0H91.7ZM1795.3 683.6H1982.7V701.0H1795.3ZM2118.9 683.6H2459.7V701.0H2118.9ZM91.7 700.6H1727.1V718.0H91.7ZM1795.3 700.6H1982.7V718.0H1795.3ZM2101.9 700.6H2459.7V718.0H2101.9ZM74.6 717.6H1744.1V735.0H74.6ZM1812.3 717.6H1965.6V735.0H1812.3ZM2084.9 717.6H2442.6V735.0H2084.9ZM74.6 734.6H1744.1V751.9H74.6ZM1812.3 734.6H1965.6V751.9H1812.3ZM2050.8 734.6H2425.6V751.9H2050.8ZM74.6 751.5H1744.1V768.9H74.6ZM1795.3 751.5H1965.6V768.9H1795.3ZM2033.8 751.5H2391.5V768.9H2033.8ZM74.6 768.5H1744.1V785.9H74.6ZM1795.3 768.5H1965.6V785.9H1795.3ZM1999.7 768.5H2391.5V785.9H1999.7ZM91.7 785.5H1761.2V802.9H91.7ZM1778.2 785.5H2391.5V802.9H1778.2ZM91.7 802.5H2391.5V819.8H91.7ZM91.7 819.4H2391.5V836.8H91.7ZM108.7 836.4H2374.5V853.8H108.7ZM108.7 853.4H2374.5V870.8H108.7ZM91.7 870.4H2374.5V887.7H91.7ZM108.7 887.3H2374.5V904.7H108.7ZM108.7 904.3H2374.5V921.7H108.7ZM108.7 921.3H2374.5V938.7H108.7ZM108.7 938.3H2357.4V955.6H108.7ZM108.7 955.2H2357.4V972.6H108.7ZM108.7 972.2H2357.4V989.6H108.7ZM125.7 989.2H2357.4V1006.6H125.7ZM125.7 1006.2H2357.4V1023.5H125.7ZM125.7 1023.1H2374.5V1040.5H125.7ZM125.7 1040.1H2374.5V1057.5H125.7ZM125.7 1057.1H2391.5V1074.5H125.7ZM159.8 1074.1H2391.5V1091.4H159.8ZM193.9 1091.0H2391.5V1108.4H193.9ZM210.9 1108.0H2374.5V1125.4H210.9ZM227.9 1125.0H2357.4V1142.4H227.9ZM245.0 1142.0H2323.4V1159.3H245.0ZM245.0 1158.9H2306.3V1176.3H245.0ZM262.0 1175.9H2306.3V1193.3H262.0ZM262.0 1192.9H2289.3V1210.3H262.0ZM262.0 1209.9H2255.2V1227.2H262.0ZM279.1 1226.8H2238.2V1244.2H279.1ZM381.3 1243.8H2238.2V1261.2H381.3ZM398.3 1260.8H2238.2V1278.2H398.3ZM415.3 1277.8H2221.2V1295.1H415.3ZM449.4 1294.7H2204.1V1312.1H449.4ZM466.4 1311.7H2187.1V1329.1H466.4ZM500.5 1328.7H2170.0V1346.1H500.5ZM517.6 1345.7H2170.0V1363.0H517.6ZM551.6 1362.6H2153.0V1380.0H551.6ZM602.7 1379.6H722.0V1397.0H602.7ZM773.1 1379.6H2153.0V1397.0H773.1ZM705.0 1396.6H722.0V1414.0H705.0ZM824.2 1396.6H2153.0V1414.0H824.2ZM824.2 1413.6H2153.0V1430.9H824.2ZM841.2 1430.5H2153.0V1447.9H841.2ZM858.3 1447.5H2170.0V1464.9H858.3ZM875.3 1464.5H2170.0V1481.9H875.3ZM892.3 1481.5H2187.1V1498.8H892.3ZM892.3 1498.4H1744.1V1515.8H892.3ZM1931.5 1498.4H1999.7V1515.8H1931.5ZM2033.8 1498.4H2187.1V1515.8H2033.8ZM892.3 1515.4H1727.1V1532.8H892.3ZM1948.6 1515.4H1965.6V1532.8H1948.6ZM2050.8 1515.4H2204.1V1532.8H2050.8ZM909.4 1532.4H1011.6V1549.8H909.4ZM1028.6 1532.4H1727.1V1549.8H1028.6ZM2084.9 1532.4H2221.2V1549.8H2084.9ZM926.4 1549.4H994.6V1566.7H926.4ZM1079.7 1549.4H1505.6V1566.7H1079.7ZM1522.7 1549.4H1590.8V1566.7H1522.7ZM1607.9 1549.4H1727.1V1566.7H1607.9ZM2101.9 1549.4H2238.2V1566.7H2101.9ZM943.5 1566.3H994.6V1583.7H943.5ZM1096.8 1566.3H1454.5V1583.7H1096.8ZM1624.9 1566.3H1693.0V1583.7H1624.9ZM1710.1 1566.3H1761.2V1583.7H1710.1ZM2101.9 1566.3H2238.2V1583.7H2101.9ZM1096.8 1583.3H1420.5V1600.7H1096.8ZM1727.1 1583.3H1744.1V1600.7H1727.1ZM2101.9 1583.3H2238.2V1600.7H2101.9ZM1113.8 1600.3H1403.4V1617.7H1113.8ZM2101.9 1600.3H2255.2V1617.7H2101.9ZM1113.8 1617.3H1386.4V1634.6H1113.8ZM2101.9 1617.3H2255.2V1634.6H2101.9ZM1130.9 1634.2H1352.3V1651.6H1130.9ZM2118.9 1634.2H2272.3V1651.6H2118.9ZM1130.9 1651.2H1318.2V1668.6H1130.9ZM2118.9 1651.2H2272.3V1668.6H2118.9ZM1147.9 1668.2H1318.2V1685.6H1147.9ZM2136.0 1668.2H2289.3V1685.6H2136.0ZM1164.9 1685.2H1301.2V1702.5H1164.9ZM2153.0 1685.2H2289.3V1702.5H2153.0ZM1164.9 1702.1H1301.2V1719.5H1164.9ZM2170.0 1702.1H2289.3V1719.5H2170.0ZM1164.9 1719.1H1301.2V1736.5H1164.9ZM2187.1 1719.1H2289.3V1736.5H2187.1ZM1182.0 1736.1H1301.2V1753.5H1182.0ZM2221.2 1736.1H2272.3V1753.5H2221.2ZM1182.0 1753.1H1301.2V1770.4H1182.0ZM2221.2 1753.1H2272.3V1770.4H2221.2ZM1216.0 1770.0H1301.2V1787.4H1216.0ZM2136.0 1770.0H2153.0V1787.4H2136.0ZM2170.0 1770.0H2187.1V1787.4H2170.0ZM2204.1 1770.0H2221.2V1787.4H2204.1ZM1267.1 1787.0H1301.2V1804.4H1267.1Z" fill="#a7d0e4" shape-rendering="crispEdges"/>
<path d="M227.9 191.4H245.0V208.3H227.9ZM313.1 191.4H364.2V208.3H313.1ZM227.9 208.3H262.0V225.3H227.9ZM313.1 208.3H381.3V225.3H313.1ZM398.3 208.3H415.3V225.3H398.3ZM227.9 225.3H296.1V242.3H227.9ZM313.1 225.3H364.2V242.3H313.1ZM398.3 225.3H466.4V242.3H398.3ZM227.9 242.3H364.2V259.3H227.9ZM381.3 242.3H534.6V259.3H381.3ZM227.9 259.3H347.2V276.2H227.9ZM381.3 259.3H602.7V276.2H381.3ZM227.9 276.2H347.2V293.2H227.9ZM398.3 276.2H653.8V293.2H398.3ZM210.9 293.2H313.1V310.2H210.9ZM381.3 293.2H722.0V310.2H381.3ZM2510.8 293.2H2527.8V310.2H2510.8ZM210.9 310.2H279.1V327.2H210.9ZM381.3 310.2H670.9V327.2H381.3ZM687.9 310.2H722.0V327.2H687.9ZM773.1 310.2H824.2V327.2H773.1ZM210.9 327.2H279.1V344.1H210.9ZM364.2 327.2H636.8V344.1H364.2ZM653.8 327.2H670.9V344.1H653.8ZM773.1 327.2H926.4V344.1H773.1ZM210.9 344.1H279.1V361.1H210.9ZM347.2 344.1H568.7V361.1H347.2ZM585.7 344.1H636.8V361.1H585.7ZM773.1 344.1H807.2V361.1H773.1ZM875.3 344.1H926.4V361.1H875.3ZM943.5 344.1H1062.7V361.1H943.5ZM1403.4 344.1H1420.5V361.1H1403.4ZM193.9 361.1H279.1V378.1H193.9ZM330.2 361.1H653.8V378.1H330.2ZM773.1 361.1H824.2V378.1H773.1ZM943.5 361.1H1113.8V378.1H943.5ZM1335.3 361.1H1352.3V378.1H1335.3ZM193.9 378.1H653.8V395.1H193.9ZM977.5 378.1H1113.8V395.1H977.5ZM193.9 395.1H653.8V412.0H193.9ZM994.6 395.1H1113.8V412.0H994.6ZM176.8 412.0H636.8V429.0H176.8ZM994.6 412.0H1113.8V429.0H994.6ZM1659.0 412.0H1676.0V429.0H1659.0ZM159.8 429.0H398.3V446.0H159.8ZM449.4 429.0H636.8V446.0H449.4ZM1011.6 429.0H1113.8V446.0H1011.6ZM2425.6 429.0H2459.7V446.0H2425.6ZM159.8 446.0H381.3V463.0H159.8ZM466.4 446.0H585.7V463.0H466.4ZM1028.6 446.0H1096.8V463.0H1028.6ZM2408.6 446.0H2459.7V463.0H2408.6ZM142.8 463.0H245.0V479.9H142.8ZM262.0 463.0H364.2V479.9H262.0ZM466.4 463.0H619.8V479.9H466.4ZM2374.5 463.0H2459.7V479.9H2374.5ZM142.8 479.9H347.2V496.9H142.8ZM449.4 479.9H636.8V496.9H449.4ZM756.1 479.9H790.1V496.9H756.1ZM807.2 479.9H824.2V496.9H807.2ZM2306.3 479.9H2442.6V496.9H2306.3ZM125.7 496.9H330.2V513.9H125.7ZM398.3 496.9H670.9V513.9H398.3ZM687.9 496.9H841.2V513.9H687.9ZM1710.1 496.9H1744.1V513.9H1710.1ZM1846.4 496.9H1880.4V513.9H1846.4ZM2272.3 496.9H2408.6V513.9H2272.3ZM2425.6 496.9H2442.6V513.9H2425.6ZM2459.7 496.9H2493.7V513.9H2459.7ZM125.7 513.9H330.2V530.9H125.7ZM364.2 513.9H858.3V530.9H364.2ZM1437.5 513.9H1505.6V530.9H1437.5ZM1624.9 513.9H1641.9V530.9H1624.9ZM1676.0 513.9H1727.1V530.9H1676.0ZM1846.4 513.9H1897.5V530.9H1846.4ZM2255.2 513.9H2391.5V530.9H2255.2ZM2476.7 513.9H2493.7V530.9H2476.7ZM108.7 530.9H841.2V547.8H108.7ZM1420.5 530.9H1522.7V547.8H1420.5ZM1624.9 530.9H1710.1V547.8H1624.9ZM1846.4 530.9H1863.4V547.8H1846.4ZM2238.2 530.9H2374.5V547.8H2238.2ZM2476.7 530.9H2493.7V547.8H2476.7ZM125.7 547.8H858.3V564.8H125.7ZM1403.4 547.8H1522.7V564.8H1403.4ZM1607.9 547.8H1710.1V564.8H1607.9ZM1846.4 547.8H1897.5V564.8H1846.4ZM2255.2 547.8H2340.4V564.8H2255.2ZM2476.7 547.8H2493.7V564.8H2476.7ZM108.7 564.8H858.3V581.8H108.7ZM960.5 564.8H994.6V581.8H960.5ZM1386.4 564.8H1522.7V581.8H1386.4ZM1607.9 564.8H1693.0V581.8H1607.9ZM1829.3 564.8H1914.5V581.8H1829.3ZM2238.2 564.8H2323.4V581.8H2238.2ZM108.7 581.8H858.3V598.8H108.7ZM943.5 581.8H994.6V598.8H943.5ZM1403.4 581.8H1539.7V598.8H1403.4ZM1590.8 581.8H1676.0V598.8H1590.8ZM1812.3 581.8H1914.5V598.8H1812.3ZM2238.2 581.8H2323.4V598.8H2238.2ZM108.7 598.8H858.3V615.7H108.7ZM943.5 598.8H960.5V615.7H943.5ZM1488.6 598.8H1676.0V615.7H1488.6ZM1795.3 598.8H1931.5V615.7H1795.3ZM2221.2 598.8H2306.3V615.7H2221.2ZM91.7 615.7H875.3V632.7H91.7ZM1488.6 615.7H1676.0V632.7H1488.6ZM1795.3 615.7H1914.5V632.7H1795.3ZM2221.2 615.7H2289.3V632.7H2221.2ZM2527.8 615.7H2544.8V632.7H2527.8ZM91.7 632.7H875.3V649.7H91.7ZM1488.6 632.7H1693.0V649.7H1488.6ZM1795.3 632.7H1914.5V649.7H1795.3ZM2118.9 632.7H2255.2V649.7H2118.9ZM2510.8 632.7H2544.8V649.7H2510.8ZM74.6 649.7H296.1V666.7H74.6ZM313.1 649.7H687.9V666.7H313.1ZM705.0 649.7H943.5V666.7H705.0ZM1471.6 649.7H1744.1V666.7H1471.6ZM1795.3 649.7H1897.5V666.7H1795.3ZM2118.9 649.7H2221.2V666.7H2118.9ZM2510.8 649.7H2544.8V666.7H2510.8ZM74.6 666.7H296.1V683.6H74.6ZM330.2 666.7H687.9V683.6H330.2ZM722.0 666.7H960.5V683.6H722.0ZM1454.5 666.7H1744.1V683.6H1454.5ZM1795.3 666.7H1897.5V683.6H1795.3ZM2136.0 666.7H2187.1V683.6H2136.0ZM91.7 683.6H108.7V700.6H91.7ZM193.9 683.6H296.1V700.6H193.9ZM330.2 683.6H517.6V700.6H330.2ZM551.6 683.6H670.9V700.6H551.6ZM705.0 683.6H960.5V700.6H705.0ZM1028.6 683.6H1045.7V700.6H1028.6ZM1437.5 683.6H1744.1V700.6H1437.5ZM1795.3 683.6H1880.4V700.6H1795.3ZM2118.9 683.6H2170.0V700.6H2118.9ZM91.7 700.6H108.7V717.6H91.7ZM245.0 700.6H296.1V717.6H245.0ZM330.2 700.6H483.5V717.6H330.2ZM602.7 700.6H687.9V717.6H602.7ZM705.0 700.6H960.5V717.6H705.0ZM1028.6 700.6H1045.7V717.6H1028.6ZM1420.5 700.6H1727.1V717.6H1420.5ZM1846.4 700.6H1863.4V717.6H1846.4ZM74.6 717.6H91.7V734.6H74.6ZM245.0 717.6H296.1V734.6H245.0ZM364.2 717.6H466.4V734.6H364.2ZM619.8 717.6H960.5V734.6H619.8ZM1420.5 717.6H1744.1V734.6H1420.5ZM74.6 734.6H91.7V751.5H74.6ZM432.4 734.6H449.4V751.5H432.4ZM551.6 734.6H926.4V751.5H551.6ZM1403.4 734.6H1744.1V751.5H1403.4ZM1812.3 734.6H1829.3V751.5H1812.3ZM74.6 751.5H91.7V768.5H74.6ZM534.6 751.5H892.3V768.5H534.6ZM1199.0 751.5H1233.1V768.5H1199.0ZM1301.2 751.5H1744.1V768.5H1301.2ZM74.6 768.5H91.7V785.5H74.6ZM534.6 768.5H858.3V785.5H534.6ZM1199.0 768.5H1744.1V785.5H1199.0ZM534.6 785.5H670.9V802.5H534.6ZM756.1 785.5H858.3V802.5H756.1ZM1216.0 785.5H1761.2V802.5H1216.0ZM91.7 802.5H108.7V819.4H91.7ZM534.6 802.5H670.9V819.4H534.6ZM756.1 802.5H841.2V819.4H756.1ZM1267.1 802.5H1744.1V819.4H1267.1ZM91.7 819.4H125.7V836.4H91.7ZM279.1 819.4H296.1V836.4H279.1ZM517.6 819.4H670.9V836.4H517.6ZM722.0 819.4H841.2V836.4H722.0ZM1335.3 819.4H1505.6V836.4H1335.3ZM1573.8 819.4H1693.0V836.4H1573.8ZM2050.8 819.4H2067.8V836.4H2050.8ZM108.7 836.4H125.7V853.4H108.7ZM279.1 836.4H313.1V853.4H279.1ZM517.6 836.4H636.8V853.4H517.6ZM653.8 836.4H807.2V853.4H653.8ZM1352.3 836.4H1488.6V853.4H1352.3ZM2050.8 836.4H2170.0V853.4H2050.8ZM279.1 853.4H347.2V870.4H279.1ZM517.6 853.4H636.8V870.4H517.6ZM653.8 853.4H756.1V870.4H653.8ZM1352.3 853.4H1437.5V870.4H1352.3ZM2033.8 853.4H2187.1V870.4H2033.8ZM296.1 870.4H330.2V887.3H296.1ZM517.6 870.4H602.7V887.3H517.6ZM670.9 870.4H722.0V887.3H670.9ZM1335.3 870.4H1437.5V887.3H1335.3ZM2067.8 870.4H2204.1V887.3H2067.8ZM296.1 887.3H330.2V904.3H296.1ZM517.6 887.3H568.7V904.3H517.6ZM1335.3 887.3H1437.5V904.3H1335.3ZM2084.9 887.3H2204.1V904.3H2084.9ZM296.1 904.3H330.2V921.3H296.1ZM1335.3 904.3H1420.5V921.3H1335.3ZM1948.6 904.3H1965.6V921.3H1948.6ZM2101.9 904.3H2187.1V921.3H2101.9ZM262.0 921.3H279.1V938.3H262.0ZM313.1 921.3H330.2V938.3H313.1ZM1318.2 921.3H1420.5V938.3H1318.2ZM1897.5 921.3H1965.6V938.3H1897.5ZM2136.0 921.3H2170.0V938.3H2136.0ZM262.0 938.3H279.1V955.2H262.0ZM1318.2 938.3H1420.5V955.2H1318.2ZM1863.4 938.3H1965.6V955.2H1863.4ZM245.0 955.2H279.1V972.2H245.0ZM1267.1 955.2H1420.5V972.2H1267.1ZM1846.4 955.2H1914.5V972.2H1846.4ZM210.9 972.2H245.0V989.2H210.9ZM1199.0 972.2H1420.5V989.2H1199.0ZM1846.4 972.2H1880.4V989.2H1846.4ZM176.8 989.2H245.0V1006.2H176.8ZM892.3 989.2H909.4V1006.2H892.3ZM943.5 989.2H1011.6V1006.2H943.5ZM1182.0 989.2H1420.5V1006.2H1182.0ZM125.7 1006.2H227.9V1023.1H125.7ZM892.3 1006.2H1028.6V1023.1H892.3ZM1062.7 1006.2H1096.8V1023.1H1062.7ZM1182.0 1006.2H1420.5V1023.1H1182.0ZM142.8 1023.1H176.8V1040.1H142.8ZM892.3 1023.1H1147.9V1040.1H892.3ZM1164.9 1023.1H1437.5V1040.1H1164.9ZM2204.1 1023.1H2238.2V1040.1H2204.1ZM125.7 1040.1H176.8V1057.1H125.7ZM892.3 1040.1H926.4V1057.1H892.3ZM943.5 1040.1H994.6V1057.1H943.5ZM1045.7 1040.1H1216.0V1057.1H1045.7ZM1267.1 1040.1H1420.5V1057.1H1267.1ZM2153.0 1040.1H2289.3V1057.1H2153.0ZM142.8 1057.1H159.8V1074.1H142.8ZM1028.6 1057.1H1130.9V1074.1H1028.6ZM1250.1 1057.1H1420.5V1074.1H1250.1ZM2101.9 1057.1H2289.3V1074.1H2101.9ZM1250.1 1074.1H1403.4V1091.0H1250.1ZM2084.9 1074.1H2289.3V1091.0H2084.9ZM1233.1 1091.0H1403.4V1108.0H1233.1ZM2067.8 1091.0H2272.3V1108.0H2067.8ZM1233.1 1108.0H1386.4V1125.0H1233.1ZM1488.6 1108.0H1539.7V1125.0H1488.6ZM1999.7 1108.0H2187.1V1125.0H1999.7ZM1216.0 1125.0H1369.4V1142.0H1216.0ZM1471.6 1125.0H1573.8V1142.0H1471.6ZM1999.7 1125.0H2153.0V1142.0H1999.7ZM1147.9 1142.0H1369.4V1158.9H1147.9ZM1454.5 1142.0H1573.8V1158.9H1454.5ZM1999.7 1142.0H2136.0V1158.9H1999.7ZM1130.9 1158.9H1352.3V1175.9H1130.9ZM1454.5 1158.9H1573.8V1175.9H1454.5ZM2016.7 1158.9H2101.9V1175.9H2016.7ZM1147.9 1175.9H1352.3V1192.9H1147.9ZM1471.6 1175.9H1590.8V1192.9H1471.6ZM2033.8 1175.9H2084.9V1192.9H2033.8ZM1164.9 1192.9H1369.4V1209.9H1164.9ZM1522.7 1192.9H1590.8V1209.9H1522.7ZM2033.8 1192.9H2067.8V1209.9H2033.8ZM1216.0 1209.9H1352.3V1226.8H1216.0ZM1522.7 1209.9H1539.7V1226.8H1522.7ZM1267.1 1226.8H1335.3V1243.8H1267.1ZM1522.7 1226.8H1556.8V1243.8H1522.7ZM1505.6 1243.8H1573.8V1260.8H1505.6ZM1488.6 1260.8H1573.8V1277.8H1488.6ZM1454.5 1277.8H1556.8V1294.7H1454.5ZM1437.5 1294.7H1556.8V1311.7H1437.5ZM1437.5 1311.7H1522.7V1328.7H1437.5ZM2136.0 1379.6H2153.0V1396.6H2136.0ZM2101.9 1396.6H2153.0V1413.6H2101.9ZM2084.9 1413.6H2153.0V1430.5H2084.9ZM2084.9 1430.5H2153.0V1447.5H2084.9ZM1556.8 1447.5H1590.8V1464.5H1556.8ZM2067.8 1447.5H2153.0V1464.5H2067.8ZM2050.8 1464.5H2170.0V1481.5H2050.8ZM2033.8 1481.5H2187.1V1498.4H2033.8ZM2050.8 1498.4H2170.0V1515.4H2050.8ZM2067.8 1515.4H2101.9V1532.4H2067.8ZM1267.1 1736.1H1284.2V1753.1H1267.1ZM1233.1 1753.1H1250.1V1770.0H1233.1ZM1267.1 1753.1H1301.2V1770.0H1267.1ZM1216.0 1770.0H1301.2V1787.0H1216.0ZM1267.1 1787.0H1301.2V1804.0H1267.1Z" fill="#569fc9" shape-rendering="crispEdges"/>
<path d="M381.3 1057.1H398.3V1074.1H381.3ZM381.3 1074.1H398.3V1091.0H381.3Z" fill="#e1edf3" shape-rendering="crispEdges"/>
<path class="state" d="M1537.5 505.0 L1545.0 495.0 L1560.0 480.0 L1575.0 466.2 L1592.5 450.0 L1610.0 440.0 L1625.0 430.0 L1637.5 426.2 L1647.5 417.5 L1650.0 397.5 L1662.5 390.0 L1675.0 387.5 L1680.0 370.0 L1686.2 361.2 L1696.2 360.0 L1707.5 367.5 L1717.5 367.5 L1727.5 369.5 L1737.5 368.8 L1748.8 366.2 L1758.8 367.5 L1766.2 376.2 L1771.2 387.5 L1776.2 396.2 L1782.5 405.0 L1791.2 411.2 L1800.0 412.5 L1812.5 410.5 L1830.0 410.5 L1826.2 421.2 L1827.5 431.2 L1836.2 437.5 L1845.0 445.0 L1841.2 457.5 L1838.8 468.8 L1835.0 480.0 L1836.2 492.5 L1846.2 496.2 L1855.0 492.5 L1850.0 490.0 L1835.0 495.0 L1825.0 482.5 L1812.5 486.2 L1800.0 488.8 L1790.0 492.5 L1780.0 497.5 L1770.0 505.0 L1762.5 508.0 L1752.5 507.5 L1743.8 507.5 L1735.0 503.8 L1727.5 495.0 L1720.0 488.8 L1710.0 486.2 L1697.5 485.5 L1691.2 492.5 L1687.5 480.0 L1697.5 470.0 L1715.0 452.5 L1703.8 451.2 L1692.5 456.2 L1680.0 470.0 L1672.5 475.0 L1662.5 482.5 L1655.0 490.0 L1642.5 496.2 L1632.5 500.0 L1622.5 505.0 L1610.0 515.0 L1596.2 510.0 L1592.5 502.5 L1605.0 487.5 L1590.0 492.5 L1580.0 496.2 L1570.0 501.2 L1557.5 506.2 L1547.5 510.0 L1540.0 508.8ZM1746.2 582.5 L1750.0 567.5 L1762.5 550.0 L1775.0 547.5 L1795.0 535.0 L1812.5 525.0 L1822.5 522.5 L1832.5 523.8 L1842.5 527.5 L1850.0 535.0 L1845.0 547.5 L1840.0 562.5 L1830.0 570.0 L1827.5 580.0 L1822.5 595.0 L1812.5 590.0 L1802.5 600.0 L1796.2 612.5 L1797.5 630.0 L1795.0 645.0 L1790.0 652.5 L1792.5 667.5 L1795.0 685.0 L1800.0 697.5 L1805.8 705.5 L1812.0 728.0 L1809.5 750.5 L1802.0 775.5 L1793.2 791.8 L1784.5 793.0 L1775.8 801.8 L1762.0 800.5 L1759.5 790.5 L1745.8 773.0 L1742.0 753.0 L1738.2 728.0 L1734.5 703.0 L1738.2 668.0 L1743.2 648.0 L1747.0 615.5 L1743.8 605.0ZM1860.0 495.0 L1870.0 492.5 L1882.5 500.0 L1900.0 502.5 L1925.0 502.0 L1950.0 500.5 L1970.0 500.0 L1982.5 501.2 L2000.0 502.5 L2017.5 505.0 L2027.5 515.0 L2037.5 522.5 L2050.0 530.0 L2057.5 540.0 L2062.5 550.0 L2075.0 557.5 L2076.2 565.0 L2065.0 572.5 L2063.8 582.5 L2050.0 583.8 L2037.5 580.0 L2025.0 582.5 L2026.2 575.0 L2015.0 573.8 L2010.0 567.5 L2002.5 560.0 L1997.5 552.5 L1993.8 550.0 L1985.0 551.2 L1990.0 556.2 L1997.5 562.5 L2005.0 570.0 L2008.8 585.0 L2002.5 600.0 L1997.5 610.0 L2000.0 630.0 L2003.8 655.0 L2000.0 667.5 L1990.0 678.8 L1983.8 685.0 L1978.8 690.0 L1976.2 685.0 L1970.0 672.5 L1963.8 655.0 L1957.5 640.0 L1948.8 632.5 L1937.5 633.8 L1930.0 640.0 L1922.5 655.0 L1912.5 663.8 L1903.8 660.0 L1902.5 652.5 L1910.0 643.8 L1917.5 635.0 L1916.2 622.5 L1922.5 612.5 L1922.5 592.5 L1916.2 570.0 L1910.0 560.0 L1897.5 552.5 L1880.0 545.0 L1862.5 540.0 L1850.0 535.0 L1857.5 530.0 L1867.5 531.2 L1880.0 523.8 L1890.0 516.2 L1880.0 515.0 L1870.0 505.0 L1862.5 502.5ZM1968.0 718.0 L1978.0 715.5 L1984.2 723.0 L1980.5 733.0 L1968.0 734.2 L1964.2 725.5ZM1950.5 763.0 L1953.0 783.0 L1968.0 786.8 L1985.5 786.8 L1998.0 783.0 L2018.0 776.8 L2033.0 763.0 L2043.0 755.5 L2058.0 743.0 L2071.8 736.8 L2085.5 728.0 L2101.8 715.5 L2110.5 705.5 L2118.0 698.0 L2130.5 683.0 L2136.8 670.5 L2128.0 668.0 L2108.0 675.5 L2093.0 683.0 L2080.5 690.5 L2068.0 698.0 L2053.0 703.0 L2043.0 703.0 L2028.0 708.0 L2020.5 718.0 L2010.5 728.0 L1998.0 740.5 L1985.5 753.0 L1978.0 755.5 L1965.5 751.8 L1955.5 755.5ZM2090.5 653.0 L2094.2 654.2 L2105.5 655.5 L2118.0 645.5 L2143.0 636.8 L2168.0 633.5 L2188.0 631.8 L2205.5 626.8 L2218.0 620.5 L2230.5 610.5 L2240.5 601.8 L2241.8 585.5 L2238.0 573.0 L2231.8 568.0 L2218.0 575.5 L2200.5 575.5 L2195.5 583.0 L2183.0 581.8 L2173.0 590.5 L2155.5 600.5 L2138.0 608.0 L2123.0 615.5 L2113.0 620.5 L2103.0 630.5 L2093.0 643.0ZM1897.5 520.0 L1912.5 515.0 L1930.0 516.2 L1947.5 513.8 L1962.5 510.0 L1975.0 508.8 L1982.5 513.8 L1983.8 525.0 L1975.0 530.0 L1980.0 537.5 L1970.0 533.8 L1955.0 527.5 L1940.0 525.0 L1925.0 522.5 L1910.0 525.0ZM1650.0 427.5 L1660.0 415.0 L1675.0 405.0 L1680.0 410.0 L1670.0 420.0 L1657.5 432.5Z"/>
<path class="state" d="M498.0 434.2 L503.8 445.0 L510.0 455.0 L507.5 466.2 L495.0 482.5 L482.5 500.0 L467.5 516.2 L460.0 525.0 L462.5 535.0 L468.8 543.0M2339.2 485.0 L2345.5 502.5 L2353.0 525.0 L2350.5 543.0M2413.0 463.0 L2416.8 477.5 L2421.8 490.0 L2415.5 502.5 L2405.5 510.0 L2408.0 532.5 L2406.8 543.0M2428.0 443.0 L2433.0 457.5 L2440.5 482.5 L2450.5 507.5 L2460.5 530.0 L2465.5 543.0M118.8 568.0 L195.0 596.8 L270.0 620.5 L297.0 630.0M470.0 541.8 L457.5 565.5 L450.0 593.0 L442.5 623.0 L428.0 668.0M719.8 579.2 L728.5 554.2 L786.0 564.2 L861.0 576.8 L943.5 589.2 L1027.2 598.0M771.0 810.5 L761.0 868.0 L753.5 916.0M1036.0 543.0 L1136.0 550.5 L1252.0 556.8M1015.5 719.2 L1136.0 729.2 L1252.0 736.0M1252.0 556.8 L1349.5 560.0M1353.2 708.0 L1477.0 706.8 L1579.5 703.0M1252.0 736.0 L1262.0 736.8 L1277.0 746.8 L1285.8 748.5 L1295.8 744.2 L1309.5 745.0 L1322.0 751.8 L1337.0 756.8 L1344.5 763.0M1382.0 885.5 L1477.0 883.5 L1569.5 879.8 L1575.8 885.5 L1583.2 891.8M1793.2 791.8 L1868.0 784.2M1868.0 784.2 L1883.0 781.8 L1943.0 774.2M2101.8 715.5 L2104.2 726.8 L2111.8 729.2 L2193.0 709.2 L2268.0 690.5 L2296.8 686.8 L2305.5 688.0 L2315.5 695.5 L2323.0 708.0 L2335.5 715.5 L2378.0 728.0M2335.5 715.5 L2330.5 733.0 L2326.8 743.0 L2329.2 763.0 L2343.0 775.5 L2355.5 786.8 L2348.0 795.5 L2340.5 805.5M2354.2 541.8 L2358.0 565.5 L2365.5 568.0 L2373.0 590.5 L2380.5 615.5 L2380.5 655.5 L2388.0 693.0 L2395.5 708.0 L2389.2 720.5M2406.8 541.8 L2405.5 563.0 L2408.0 588.0 L2411.8 605.5M2455.5 640.5 L2468.0 678.0M2088.0 833.0 L2086.8 843.0 L2085.5 858.0 L2080.5 883.0 L2065.5 898.0 L2048.0 916.0M2144.2 863.0 L2148.0 878.0 L2150.5 890.5 L2155.5 890.5 L2168.0 875.5 L2178.0 866.8 L2200.5 855.5 L2210.5 851.8 L2220.5 854.2 L2228.0 865.5 L2230.5 881.8 L2248.0 878.0 L2268.0 884.2 L2275.5 886.8M2318.0 824.2 L2325.5 855.5 L2335.5 896.8 L2363.0 893.0M491.2 1001.0 L570.0 1018.5 L636.0 1031.0M491.2 1001.0 L485.0 1026.0 L478.8 1046.0 L472.5 1056.0 L467.5 1054.8 L460.0 1047.2 L450.0 1044.8 L442.5 1048.5 L441.2 1066.0 L438.8 1088.5 L432.5 1109.8M432.5 1109.8 L435.0 1128.5 L438.8 1147.2 L447.5 1156.0 L435.0 1168.5 L425.0 1178.5 L420.0 1196.0 L412.5 1206.0 L403.8 1212.2 L401.2 1223.5 L410.0 1233.5 L410.0 1243.5 L402.5 1249.8 L392.5 1249.8M753.5 916.0 L741.0 978.5 L729.8 1048.5M729.8 1048.5 L718.5 1116.0 L706.0 1191.0 L689.8 1289.0M1437.0 974.8 L1438.2 1041.0 L1439.5 1106.0 L1440.0 1136.0M1252.0 1103.0 L1352.0 1105.5 L1439.5 1105.5M1440.0 1136.0 L1502.0 1134.8 L1577.0 1131.5 L1657.0 1128.0 L1664.5 1133.5 L1657.0 1146.0 L1650.8 1158.5 L1684.5 1157.2M1768.2 1212.2 L1772.0 1241.0 L1770.8 1289.0M1980.5 1086.0 L1990.5 1079.8 L2008.0 1066.0 L2028.0 1043.5 L2045.5 1026.0 L2051.8 1016.0M1899.2 916.0 L1901.8 938.5 L1905.5 956.0 L1898.0 964.8 L1880.5 969.8 L1873.0 983.5 L1868.0 996.0M1901.8 938.5 L1908.0 942.2 L1920.5 941.0 L1933.0 953.5 L1950.5 957.2 L1960.5 961.0 L1968.0 958.5 L1978.0 961.0 L1995.5 953.5 L2003.0 961.0 L2015.5 967.2M2015.5 967.2 L2016.8 983.5 L2028.0 998.5 L2038.0 1011.0 L2051.8 1016.0M2048.0 916.0 L2043.0 928.5 L2035.5 927.2 L2030.5 943.5 L2028.0 956.0 L2023.0 966.0 L2015.5 967.2M689.8 1289.0 L681.0 1339.0 L672.2 1395.2M1267.0 1289.0 L1272.0 1295.2 L1284.5 1291.5 L1299.5 1299.0 L1309.5 1300.2 L1312.0 1305.2 L1319.5 1294.0 L1334.5 1297.8 L1353.2 1307.8 L1362.0 1301.5 L1377.0 1297.8 L1392.0 1294.0 L1402.0 1297.8 L1412.0 1294.0 L1427.0 1304.0 L1438.2 1310.2 L1452.0 1315.2 L1469.5 1316.0M1770.8 1289.0 L1769.5 1364.0 L1769.5 1414.0 L1773.2 1451.5 L1779.5 1496.5M1868.0 1451.5 L1822.0 1454.5 L1820.8 1464.0 L1829.5 1474.0 L1832.0 1489.0M1868.0 1451.5 L1953.0 1440.2 L1958.0 1439.0 L1968.0 1456.0 L2043.0 1450.2 L2114.2 1444.5 L2115.5 1454.0 L2123.0 1451.5 L2123.0 1439.0 L2120.5 1429.0 L2128.0 1426.0 L2146.0 1427.8M2475.0 635.0 L2480.0 643.0 L2483.8 650.5M237.5 191.2 L246.2 201.2 L260.0 213.8 L270.0 221.2 L280.0 223.8 L293.8 223.8 L296.2 210.0 L302.5 197.5 L305.0 185.0 L311.2 181.2 L321.2 187.5M1640.8 424.5 L1650.0 405.0 L1662.5 392.5 L1675.0 391.2 L1685.0 402.5 L1700.0 410.0 L1725.0 422.5 L1750.0 435.0 L1775.0 446.2 L1800.0 457.5 L1825.0 468.8 L1835.0 475.0 L1845.0 485.0 L1855.0 492.5 L1860.0 500.0 L1870.0 505.0 L1875.0 512.5 L1890.0 520.0 L1900.0 525.0 L1925.0 537.5 L1945.0 550.0 L1952.5 567.5 L1960.0 592.5 L1967.5 617.5 L1975.0 642.5 L1981.2 667.5 L1978.8 690.0M1977.5 703.0 L1973.0 698.0 L1975.5 715.5 L1968.0 734.2 L1960.5 748.0 L1951.8 763.0 L1968.0 768.0 L1993.0 758.0 L2023.0 740.5 L2043.0 729.2 L2068.0 718.0 L2093.0 703.0 L2118.0 685.5 L2130.5 673.0 L2128.0 665.5 L2120.5 648.0 L2118.0 640.5 L2143.0 625.5 L2168.0 615.5 L2193.0 605.5 L2218.0 593.0 L2235.5 580.5 L2243.0 570.5 L2258.0 558.0 L2273.0 548.0"/>
<path class="border" d="M251.2 346.2 L256.2 352.5 L257.5 365.0 L256.2 380.0 L261.2 385.0 L278.8 393.8 L292.5 391.2 L307.5 396.2 L318.8 405.0 L332.5 407.0 L355.0 410.5 L375.0 408.8 L395.0 410.0 L406.2 412.0 L413.8 410.5 L432.5 416.2 L465.0 425.0 L498.0 434.2M542.5 260.5 L535.0 290.0 L525.0 325.0 L516.2 355.0 L506.2 390.0 L498.8 412.5 L498.0 434.2M580.0 270.0 L573.8 295.0 L567.5 320.0 L564.5 327.5 L568.8 345.0 L571.2 362.5 L580.0 377.5 L588.8 395.0 L595.0 410.0 L600.0 416.2 L614.5 425.0 L608.8 440.0 L602.5 455.0 L600.0 467.5 L592.5 477.5 L590.0 485.0 L595.0 492.5 L605.0 491.2 L614.5 483.8 L620.0 492.5 L622.5 507.5 L626.2 525.0 L630.0 532.5 L627.5 543.0M1053.5 356.2 L1049.8 395.0 L1044.8 445.0 L1039.8 495.0 L1034.8 539.5M1327.0 373.8 L1328.2 382.5 L1329.5 407.5 L1330.8 427.5 L1335.8 445.0 L1339.5 460.0 L1340.0 482.5 L1341.5 502.5 L1342.0 517.5 L1344.5 527.5 L1348.2 537.5M297.0 630.0 L370.0 651.8 L428.0 668.0 L495.0 685.5 L557.5 701.8 L636.0 719.2M297.0 630.0 L285.0 663.0 L270.0 713.0 L257.5 758.0 L243.8 804.2 L270.0 848.0 L295.0 890.5 L311.2 916.0M557.5 703.0 L545.0 758.0 L532.5 813.0 L520.0 868.0 L510.0 916.0M633.5 540.5 L636.0 548.0 L642.2 570.5 L651.0 566.8 L668.5 568.0 L686.0 571.8 L702.2 575.5 L707.2 566.8 L714.8 568.0 L719.8 579.2M719.8 579.2 L711.0 630.5 L702.2 683.0 L693.5 730.5 L682.2 790.5M636.0 719.2 L693.5 730.5M682.2 790.5 L771.0 810.5 L886.0 828.0 L1002.2 840.0 L1093.5 848.5 L1091.0 893.0 L1089.0 910.5M1036.0 540.5 L1031.0 580.5 L1027.2 598.0 L1021.0 668.0 L1015.5 719.2 L1008.5 780.5 L1002.2 840.0M1089.0 910.5 L1252.0 918.0M1349.0 539.2 L1350.8 558.0 L1348.2 568.0 L1338.2 578.0 L1344.5 589.2 L1354.5 596.8 L1354.0 643.0 L1353.2 708.0M1353.2 708.0 L1347.0 713.0 L1352.0 728.0 L1348.2 743.0 L1344.5 755.5 L1344.5 763.0M1344.5 763.0 L1354.5 773.0 L1358.2 785.5 L1365.8 800.5 L1369.5 818.0 L1370.8 830.5 L1377.0 840.5 L1379.5 855.5 L1379.5 875.5 L1382.0 885.5 L1387.0 895.5 L1389.5 905.5 L1399.5 916.0M1530.8 543.0 L1528.2 551.8 L1514.5 560.5 L1507.0 575.5 L1514.5 586.8 L1513.2 605.5 L1513.2 628.0 L1517.0 635.5 L1529.5 641.8 L1544.5 650.5 L1554.5 663.0 L1569.5 670.5 L1579.5 678.0 L1582.0 693.0 L1584.5 705.5 L1589.5 715.5 L1589.5 733.0 L1593.2 745.5 L1607.0 751.8 L1614.5 760.5 L1619.5 768.0 L1632.0 780.5 L1638.2 790.5 L1635.8 803.0 L1628.2 818.0 L1615.8 825.5 L1600.8 833.0 L1600.8 845.5 L1604.5 855.5 L1599.5 870.5 L1589.5 883.0 L1583.2 893.0 L1583.2 916.0M1614.5 761.8 L1677.0 756.8 L1742.0 752.5M1762.0 801.8 L1764.5 855.5 L1769.5 916.0M1883.0 781.8 L1888.0 818.0 L1895.5 880.5 L1899.2 916.0M2071.8 738.0 L2080.5 793.0 L2088.0 833.0 L2098.0 873.0M2098.0 873.0 L2143.0 863.0 L2218.0 845.5 L2315.5 823.0 L2325.5 815.5M2380.5 615.5 L2411.8 606.8 L2465.5 594.2 L2478.0 578.0 L2485.5 569.2M2383.0 658.0 L2453.0 640.5 L2478.0 633.0 L2485.5 649.2M2204.2 856.8 L2204.2 868.0 L2200.5 888.0 L2190.5 903.0 L2178.0 916.0M311.2 916.0 L345.0 966.0 L382.5 1023.5 L415.0 1076.0 L432.5 1109.8M510.0 916.0 L500.0 953.5 L491.2 1001.0M636.0 1031.5 L729.8 1048.5 L861.0 1069.8 L986.0 1086.0 L1026.0 1089.8 L1074.8 1093.0 L1161.0 1098.5 L1252.0 1103.0M1089.0 911.0 L1084.8 966.0 L1081.0 1016.0 L1074.8 1093.0M1026.0 1089.8 L1023.0 1118.5 L1098.5 1124.8 L1171.0 1129.8 L1168.5 1191.0 L1166.0 1248.5 L1173.5 1256.0 L1183.5 1262.2 L1196.0 1261.0 L1198.5 1257.2 L1206.0 1264.8 L1208.5 1273.5 L1221.0 1277.2 L1236.0 1278.5 L1243.5 1283.5 L1252.0 1279.8M1023.0 1118.5 L1018.5 1166.0 L1013.5 1216.0 L1004.8 1289.0M1158.5 916.0 L1252.0 919.8M1252.0 919.8 L1399.5 921.5M1399.5 916.0 L1402.0 922.2 L1412.0 927.2 L1424.5 932.2 L1418.2 941.0 L1414.5 951.0 L1422.0 961.0 L1437.0 974.8M1440.0 1136.0 L1444.5 1166.0 L1448.2 1196.0 L1449.5 1241.0 L1448.2 1289.0M1583.2 916.0 L1587.0 928.5 L1602.0 943.5 L1614.5 954.8 L1622.0 964.8 L1625.8 976.0 L1630.8 981.0 L1638.2 978.5 L1652.0 982.2 L1647.0 1001.0 L1642.0 1018.5 L1654.5 1032.2 L1672.0 1041.0 L1685.8 1052.2 L1690.8 1068.5 L1689.5 1078.5 L1697.0 1089.8 L1704.5 1091.0 L1709.5 1099.8 L1708.2 1113.5 L1704.5 1118.5 L1697.0 1119.8 L1689.5 1124.8 L1688.2 1136.0 L1683.2 1157.2 L1684.5 1166.0 L1674.5 1176.0 L1672.0 1191.0 L1668.2 1206.0 L1662.0 1216.0 L1660.8 1223.5 L1647.0 1238.5 L1647.0 1253.5 L1639.5 1259.8 L1629.5 1276.0 L1625.8 1284.8 L1622.0 1289.0M1704.5 1091.0 L1712.0 1081.0 L1722.0 1079.8 L1739.5 1086.0 L1742.0 1081.0 L1738.2 1071.0 L1744.5 1064.8 L1754.5 1058.5 L1755.8 1041.0 L1762.0 1032.2 L1774.5 1033.5 L1779.5 1028.5 L1789.5 1028.0 L1799.5 1033.5 L1812.0 1023.5 L1824.5 1027.2 L1832.0 1012.2 L1838.2 1008.5 L1849.5 1017.2 L1857.0 1016.0 L1862.0 1001.0 L1868.0 994.8M1770.8 916.0 L1772.0 941.0 L1768.2 954.8 L1775.8 974.8 L1772.0 996.0 L1758.2 1012.2 L1755.8 1041.0M1688.2 1124.8 L1757.0 1119.8 L1764.5 1107.2 L1868.0 1098.5M1662.0 1219.8 L1768.2 1212.2 L1868.0 1201.0M1868.0 1098.5 L1980.5 1086.0 L2068.0 1072.2 L2076.8 1071.0 L2155.5 1057.2 L2243.0 1041.0 L2353.0 1016.0M2051.8 1016.0 L2060.5 1028.5 L2073.0 1033.5 L2085.5 1024.8 L2093.0 1026.0 L2108.0 1018.5 L2125.5 1008.5 L2133.0 1001.0 L2133.0 991.0 L2140.5 973.5 L2148.0 953.5 L2153.0 933.5 L2163.0 938.5 L2171.8 934.8 L2178.0 916.0M2076.8 1071.0 L2078.0 1081.0 L2065.5 1098.5 L2055.5 1103.5 L2040.5 1116.0 L2030.5 1113.5 L2023.0 1123.5 L2008.0 1138.5 L1998.0 1148.5 L1980.5 1152.2 L1970.5 1163.5 L1963.0 1171.0 L1961.8 1186.0M1868.0 1201.0 L1895.5 1198.0 L1961.8 1188.5 L2023.0 1178.5 L2058.0 1161.0 L2123.0 1153.5 L2125.5 1157.2 L2133.0 1156.0 L2140.5 1169.8 L2198.0 1162.2 L2263.0 1203.5M2023.0 1178.5 L2015.5 1188.5 L2013.0 1198.5 L2030.5 1209.8 L2040.5 1212.2 L2058.0 1236.0 L2080.5 1253.5 L2095.5 1263.5 L2108.0 1278.5 L2123.0 1289.0M1895.5 1198.0 L1910.5 1241.0 L1924.2 1289.0M1005.5 1289.0 L998.5 1339.0 L992.2 1396.5 L886.0 1384.0 L803.5 1372.8 L808.5 1384.0M1448.2 1286.5 L1448.2 1311.5M1469.5 1316.0 L1471.5 1351.5 L1472.0 1414.0 L1482.0 1424.0 L1485.8 1439.0 L1494.5 1451.5 L1498.2 1464.0 L1502.0 1472.8 L1498.2 1489.0 L1492.0 1504.0 L1490.8 1519.0 L1493.2 1529.0 L1488.2 1539.0M1471.5 1351.0 L1552.0 1348.5 L1622.0 1346.0M1625.8 1289.0 L1624.5 1296.5 L1617.0 1306.5 L1622.0 1319.0 L1620.8 1331.5 L1624.5 1335.2 L1622.0 1346.5 L1625.8 1354.0 L1624.5 1366.5 L1629.5 1379.0 L1637.0 1387.8 L1629.5 1401.5 L1624.5 1411.5 L1615.8 1420.2 L1609.5 1436.5 L1605.8 1451.5 L1603.2 1461.5 L1602.0 1471.5 L1652.0 1469.0 L1703.2 1466.0 L1705.8 1474.0 L1702.0 1489.0 L1709.5 1500.2 L1717.0 1514.0M1924.2 1289.0 L1933.0 1314.0 L1943.0 1339.0 L1953.0 1359.0 L1948.0 1369.0 L1945.5 1389.0 L1951.8 1404.0 L1953.0 1424.0 L1958.0 1439.0M2123.0 1289.0 L2130.5 1304.0 L2143.0 1316.5 L2151.8 1329.0 L2155.5 1337.8 L2164.2 1340.2M633.5 181.2 L643.5 186.2 L648.5 200.0 L649.0 220.0 L646.0 235.0 L639.8 247.5 L643.5 257.5 L647.2 270.0 L654.8 277.5 L657.2 287.0M844.0 177.5 L833.5 232.5 L826.0 277.5 L819.8 322.5M1163.5 177.5 L1162.2 270.0 L1159.8 364.5M1409.0 177.5 L1409.0 350.5M2009.2 185.0 L2018.0 232.5 L2033.0 310.0 L2043.0 370.0 L2049.2 400.0 L2058.0 420.0 L2075.5 440.0 L2093.0 460.0 L2118.0 462.0 L2143.0 461.2 L2158.0 467.5 L2168.0 475.0 L2178.0 477.5 L2181.8 471.2 L2198.0 488.8 L2218.0 486.2 L2228.0 488.8 L2258.0 470.0 L2273.0 462.5 L2285.5 463.8 L2288.0 480.0 L2293.0 482.5M2478.8 301.2 L2487.5 280.0 L2490.0 270.0 L2486.2 251.2 L2500.0 242.5 L2512.5 237.5 L2522.5 242.5 L2532.5 237.5 L2541.2 232.5 L2543.8 226.2M2693.0 298.8 L2690.0 307.5M323.0 189.5 L364.2 204.5 L415.2 222.5 L466.2 239.5 L534.0 257.5 L585.0 271.2 L636.0 283.0M636.0 283.0 L657.2 287.5 L686.0 295.5 L722.2 305.5 L773.0 316.5 L819.8 323.2 L875.2 333.0 L926.2 342.0 L977.5 348.5 L1053.5 356.2 L1113.8 362.0 L1161.0 365.0 L1211.0 368.0 L1252.0 370.0M1252.0 370.0 L1327.0 373.0 L1407.0 375.0 L1409.0 373.8 L1409.0 350.5 L1417.0 351.2 L1422.0 356.2 L1423.2 370.0 L1427.0 385.0 L1432.0 390.0 L1452.0 393.8 L1462.0 398.8 L1468.2 402.0 L1477.0 400.0 L1484.5 395.0 L1494.5 395.0 L1507.0 400.0 L1517.0 406.2 L1520.8 413.8 L1524.5 411.2 L1532.0 410.5 L1539.5 415.0 L1549.5 422.5 L1559.5 427.0 L1569.5 423.8 L1578.2 417.5 L1585.8 417.5 L1588.2 422.0 L1602.0 422.0 L1614.5 420.0 L1622.0 425.0 L1627.0 426.2 L1640.8 424.5M2281.8 502.5 L2308.0 493.0 L2343.0 482.5 L2378.0 472.5 L2413.0 463.0 L2415.5 446.2 L2428.0 443.0 L2440.5 428.0 L2438.0 420.0 L2448.0 395.0 L2443.0 375.0 L2446.0 345.0 L2453.0 320.0 L2461.0 291.2 L2468.0 290.5 L2473.0 298.8 L2480.5 300.0 L2484.0 295.0M2461.0 291.2 L2468.0 291.2 L2472.5 300.0 L2478.8 302.0 L2487.5 295.0 L2500.0 285.0 L2512.5 287.5 L2526.2 293.8 L2532.5 315.0 L2541.2 340.0 L2550.0 360.0 L2550.0 370.0 L2557.5 373.8 L2566.2 368.8 L2573.8 382.5 L2577.5 392.5 L2587.5 396.2M270.0 1228.5 L320.0 1237.2 L390.0 1248.5 L385.0 1259.8 L432.5 1289.0M427.5 1287.8 L470.0 1314.0 L520.0 1346.5 L567.5 1376.5 L636.0 1387.8M636.0 1389.0 L672.2 1395.2 L716.0 1402.8 L719.8 1379.0 L724.8 1375.2 L806.0 1387.8 L808.5 1384.0 L814.8 1389.0 L821.0 1401.5 L826.0 1411.5 L841.0 1424.0 L861.0 1449.0 L871.0 1459.0 L882.2 1467.8 L888.5 1479.0 L894.8 1501.5 L894.8 1514.0 L899.8 1526.5 L911.0 1541.5 L926.0 1556.5 L941.0 1564.0 L956.0 1576.5 L966.0 1582.0 L976.0 1580.2 L986.0 1566.5 L993.5 1551.5 L1001.0 1541.5 L1011.0 1536.5 L1024.8 1531.5 L1036.0 1536.5 L1056.0 1540.2 L1071.0 1542.8 L1081.0 1555.2 L1093.5 1566.5 L1106.0 1581.5 L1111.0 1591.5 L1113.5 1604.0 L1123.5 1621.5 L1128.5 1639.0 L1138.5 1651.5 L1146.0 1662.0M1146.0 1662.0 L1154.8 1675.5 L1166.0 1684.2 L1168.5 1695.5 L1167.2 1708.0 L1171.0 1720.5 L1179.8 1733.0 L1183.5 1748.0 L1189.8 1760.5 L1203.5 1765.5 L1213.5 1773.0 L1231.0 1780.5 L1243.5 1785.5 L1252.0 1787.5M1252.0 1788.0 L1262.0 1789.2 L1272.0 1791.8 L1282.0 1798.0 L1290.8 1796.8 L1293.2 1793.0 L1298.2 1789.2"/>
<path class="coast" d="M657.2 287.5 L686.0 295.5 L722.2 305.5 L773.0 316.5 L819.8 323.2"/>
<path class="coast" d="M320.0 175.0 L321.2 185.0 L323.0 190.0 L326.2 205.0 L323.8 220.0 L316.2 223.8 L318.8 232.5 L322.5 245.0 L323.8 252.5 L316.2 260.0 L311.2 275.0 L305.0 290.0 L295.0 292.5 L286.2 298.8 L277.5 292.5 L285.0 285.0 L300.0 270.0 L295.0 267.5 L280.0 275.0 L275.0 280.0 L282.5 270.0 L297.5 257.5 L305.0 252.5 L302.5 240.0 L295.0 237.5 L290.0 233.8 L275.0 227.5 L261.2 218.8 L252.5 212.5 L243.8 202.5 L236.2 197.5 L232.5 205.0 L229.5 222.5 L232.5 232.5 L234.5 245.0 L232.5 265.0 L230.0 280.0 L227.0 287.0 L240.0 290.5 L225.5 294.0 L224.5 302.5 L232.0 307.0 L227.5 315.0 L223.0 320.8 L217.5 323.0 L215.5 327.0 L227.5 330.0 L240.0 335.5 L245.0 344.5 L251.2 346.2 L243.8 346.2 L237.5 340.0 L227.5 335.0 L217.5 332.5 L213.8 345.0 L208.8 362.5 L205.0 372.5 L198.8 387.5 L192.5 402.5 L185.0 417.5 L176.2 432.5 L170.0 445.0 L163.8 460.0 L157.5 472.5 L150.0 481.2 L143.8 488.8 L137.5 497.5 L127.5 510.0 L122.0 516.2 L123.8 527.5 L121.2 535.0 L117.0 543.0 L117.0 543.0 L115.0 558.0 L118.8 568.0 L112.5 580.5 L115.5 590.5 L113.8 603.0 L106.2 615.5 L100.0 628.0 L90.0 639.2 L81.2 648.0 L76.2 658.0 L75.5 668.0 L81.2 680.5 L85.5 693.0 L87.0 703.0 L85.0 715.5 L79.5 728.0 L78.0 743.0 L75.0 753.0 L80.0 765.5 L85.0 778.0 L91.2 789.2 L93.0 800.5 L95.0 810.5 L87.5 818.0 L92.5 814.2 L97.5 823.0 L105.0 833.0 L110.0 838.0 L111.2 825.5 L115.0 819.2 L121.2 818.0 L126.2 825.5 L135.0 826.8 L145.0 833.0 L157.5 838.0 L145.0 835.5 L132.5 829.2 L120.0 828.0 L115.0 830.5 L116.2 843.0 L120.0 855.5 L120.0 863.0 L112.5 855.5 L108.8 843.0 L105.0 845.5 L101.2 855.5 L102.5 865.5 L99.5 873.0 L103.8 885.5 L107.5 891.8 L117.5 896.8 L120.5 904.2 L116.2 911.8 L108.8 916.0 L108.8 916.0 L106.2 931.0 L110.0 941.0 L115.0 953.5 L118.8 966.0 L121.2 978.5 L127.5 988.5 L133.8 1001.0 L132.5 1011.0 L141.2 1021.0 L138.8 1031.0 L135.0 1046.0 L131.2 1053.5 L137.5 1063.5 L152.5 1068.5 L165.0 1076.0 L177.5 1079.8 L186.2 1087.2 L192.5 1094.8 L192.5 1102.2 L202.5 1109.8 L211.2 1115.5 L220.0 1117.2 L226.2 1121.0 L228.8 1131.0 L225.0 1138.5 L231.2 1142.2 L233.8 1138.5 L240.0 1142.2 L246.2 1152.2 L256.2 1162.2 L263.8 1176.0 L268.8 1188.5 L270.0 1201.0 L266.2 1213.5 L267.5 1219.8 L270.0 1221.0 L270.0 1241.0 L275.0 1251.0 L275.0 1263.5 L285.0 1276.0 L280.0 1286.0 L278.8 1289.0 L278.8 1289.0 L277.5 1296.5 L283.8 1309.0 L288.8 1321.5 L286.2 1334.0 L296.2 1347.8 L293.8 1371.5 L301.2 1379.0 L298.8 1396.5 L296.2 1402.8 L298.8 1405.2 L300.0 1416.5 L310.0 1429.0 L322.5 1444.0 L331.2 1450.2 L342.5 1469.0 L357.5 1496.5 L365.0 1509.0 L367.5 1519.0 L360.0 1534.0 L352.5 1544.0 L346.2 1549.0 L336.2 1552.8 L328.8 1552.8 L316.2 1546.5 L305.0 1542.8 L303.8 1547.8 L310.0 1556.5 L320.0 1569.0 L326.2 1576.5 L326.2 1586.5 L332.5 1594.0 L343.8 1600.2 L348.8 1609.0 L357.5 1612.8 L363.8 1626.5 L368.8 1631.5 L378.8 1629.0 L387.5 1630.2 L395.0 1622.8 L393.8 1636.5 L400.0 1649.0 L411.2 1662.0 L411.2 1662.0 L420.0 1670.5 L430.0 1678.0 L435.0 1693.0 L438.0 1705.5 L436.2 1718.0 L438.8 1723.0 L436.2 1733.0 L431.2 1745.5 L427.5 1758.0 L430.0 1768.0 L440.0 1781.8 L441.2 1788.0 L447.5 1790.0 L455.0 1801.8 L467.5 1815.5 L478.8 1826.8 L485.0 1836.8 L492.5 1845.5 L497.5 1855.5 L512.5 1866.8 L516.2 1876.8 L520.0 1884.2 L521.2 1905.5 L525.0 1915.5 L530.0 1916.8 L540.0 1913.0 L547.5 1908.0 L558.8 1903.0 L563.8 1891.8 L566.2 1883.0 L562.5 1874.2 L552.5 1868.0 L552.5 1860.5 L548.8 1850.5 L543.8 1840.5 L537.5 1830.5 L527.5 1819.2 L522.5 1820.5 L521.2 1830.5 L517.5 1834.2 L515.0 1829.2 L507.5 1824.2 L502.5 1813.0 L501.2 1798.0 L507.5 1788.0 L507.5 1778.0 L503.8 1770.5 L498.8 1760.5 L496.2 1748.0 L495.0 1735.5 L487.5 1730.5 L482.5 1715.5 L485.0 1698.0 L483.0 1680.5 L482.5 1670.5M470.0 1662.0 L462.5 1649.0 L458.8 1634.0 L461.2 1627.8 L452.5 1619.0 L448.8 1604.0 L448.8 1595.2 L440.0 1585.2 L431.2 1571.5 L432.5 1561.5 L430.0 1551.5 L431.2 1535.2 L420.0 1527.8 L417.5 1509.0 L411.2 1505.2 L410.0 1496.5 L403.8 1496.0 L403.8 1484.0 L395.0 1461.5 L382.5 1444.0 L377.5 1435.2 L370.0 1429.0 L368.8 1424.0 L362.5 1414.0 L361.2 1402.8 L366.2 1385.2 L366.2 1354.0 L362.5 1341.5 L368.8 1321.5 L375.0 1311.5 L371.2 1296.5 L380.0 1305.2 L387.5 1309.0 L405.0 1329.0 L415.0 1330.2 L418.8 1324.0 L432.5 1335.2 L431.2 1345.2 L440.0 1350.2 L452.5 1355.2 L460.0 1361.5 L458.8 1369.0 L453.8 1369.0 L455.0 1375.2 L451.2 1389.0 L455.0 1401.5 L460.0 1419.0 L460.0 1439.0 L466.2 1461.5 L471.2 1474.0 L471.2 1484.0 L477.5 1489.0 L477.5 1506.5 L488.8 1522.8 L497.5 1544.0 L507.5 1551.5 L516.2 1574.0 L522.5 1582.8 L532.5 1589.0 L537.5 1587.8 L553.8 1595.2 L546.2 1606.5 L545.0 1619.0 L551.2 1635.2 L560.0 1642.8 L577.5 1650.2 L578.8 1662.0 L578.8 1662.0 L582.5 1671.8 L587.5 1676.8 L598.8 1678.0 L610.0 1693.0 L611.2 1703.0 L615.0 1709.2 L606.2 1708.0 L593.8 1720.5 L592.5 1740.5 L597.5 1748.0 L605.0 1750.5 L620.0 1746.8 L610.0 1755.5 L612.5 1759.2 L623.8 1758.0 L626.2 1765.5 L636.0 1773.0 L636.0 1774.2 L646.0 1784.2 L661.0 1793.0 L664.8 1796.8 L659.8 1799.2 L649.8 1794.2 L654.8 1805.5 L662.2 1814.2 L661.0 1820.5 L667.2 1829.2 L678.5 1834.2 L687.2 1835.0 L690.5 1839.2 L689.0 1846.2 L673.5 1836.8 L686.0 1848.0 L708.5 1869.2 L717.2 1881.8 L726.0 1900.5 L734.8 1913.0 L742.2 1930.5 L752.2 1941.0 L761.0 1953.0M1260.8 1953.0 L1262.0 1941.0 L1263.2 1923.0 L1267.0 1898.0 L1273.2 1873.0 L1279.5 1850.5 L1287.0 1833.0 L1295.8 1818.0 L1299.5 1805.5 L1300.8 1790.5 L1298.2 1783.0 L1294.5 1763.0 L1290.8 1738.0 L1289.0 1715.5 L1293.2 1703.0 L1300.8 1688.0 L1308.2 1676.8 L1317.0 1663.0 L1307.0 1661.8 L1300.8 1662.0 L1302.0 1656.5 L1314.5 1652.8 L1312.0 1659.0 L1322.0 1649.0 L1324.5 1639.0 L1332.0 1644.0 L1344.5 1636.5 L1338.2 1634.0 L1332.0 1620.2 L1335.8 1619.0 L1344.5 1625.2 L1347.0 1622.8 L1367.0 1626.5 L1357.0 1634.0 L1372.0 1626.5 L1387.0 1616.5 L1404.5 1605.2 L1414.5 1596.5 L1427.0 1585.2 L1432.0 1579.0 L1424.5 1569.0 L1422.0 1557.8 L1429.5 1560.2 L1432.0 1554.0 L1438.2 1555.2 L1435.8 1566.5 L1449.5 1566.5 L1442.0 1571.5 L1457.0 1564.0 L1472.0 1559.0 L1482.0 1557.8 L1480.8 1549.0 L1485.8 1540.2 L1490.8 1541.5 L1487.0 1551.5 L1484.5 1556.5 L1502.0 1552.8 L1517.0 1551.0 L1529.5 1553.5 L1539.5 1557.8 L1549.5 1561.5 L1562.0 1562.8 L1574.5 1563.5 L1584.5 1560.2 L1579.5 1554.0 L1584.5 1547.8 L1593.2 1545.2 L1598.2 1550.2 L1605.8 1550.2 L1614.5 1560.2 L1622.0 1564.0 L1628.2 1561.5 L1630.8 1569.0 L1635.8 1575.2 L1627.0 1577.8 L1642.0 1582.8 L1658.2 1586.5 L1664.5 1579.0 L1672.0 1575.2 L1680.8 1576.5 L1687.0 1586.5 L1694.5 1582.8 L1697.0 1566.5 L1689.5 1559.0 L1702.0 1562.8 L1709.5 1570.2 L1719.5 1574.0 L1732.0 1580.2 L1739.5 1584.0 L1734.5 1591.5 L1743.2 1587.8 L1748.2 1586.5 L1754.5 1577.8 L1743.2 1569.0 L1732.0 1566.5 L1719.5 1559.0 L1713.2 1551.5 L1719.5 1544.0 L1730.8 1537.8 L1732.0 1529.0 L1725.8 1524.0 L1719.5 1525.2 L1718.2 1532.8 L1712.0 1532.8 L1705.8 1526.5 L1712.0 1520.2 L1699.5 1520.2 L1687.0 1527.8 L1677.0 1525.2 L1672.0 1521.5 L1677.0 1510.2 L1684.5 1506.5 L1692.0 1507.8 L1702.0 1512.8 L1717.0 1515.2 L1722.0 1512.8 L1732.0 1505.2 L1742.0 1502.8 L1754.5 1498.5 L1767.0 1501.5 L1782.0 1499.0 L1795.8 1497.8 L1797.0 1486.5 L1800.8 1477.8 L1805.8 1486.5 L1812.0 1496.5 L1817.0 1500.2 L1827.0 1499.0 L1837.0 1494.0 L1847.0 1489.0 L1852.0 1481.5 L1858.2 1481.5 L1857.0 1489.0 L1868.0 1486.5 L1868.0 1489.0 L1878.0 1484.0 L1888.0 1480.2 L1900.5 1480.2 L1904.2 1484.0 L1885.5 1486.5 L1905.5 1490.2 L1923.0 1496.5 L1928.0 1489.0 L1933.5 1487.8 L1930.5 1499.0 L1940.5 1506.5 L1948.0 1514.0 L1948.0 1522.8 L1955.5 1524.0 L1968.0 1519.0 L1978.0 1515.2 L1985.5 1516.5 L1973.0 1525.2 L1965.5 1525.2 L1980.5 1514.0 L1993.0 1505.2 L2003.0 1501.5 L2004.2 1494.0 L2018.0 1488.5 L2038.0 1496.5 L2050.5 1509.0 L2065.5 1522.8 L2080.5 1531.5 L2098.0 1541.5 L2106.8 1552.8 L2109.2 1576.5 L2106.8 1601.5 L2105.5 1619.0 L2111.8 1626.5 L2118.0 1624.0 L2120.5 1616.5 L2115.5 1610.2 L2120.5 1609.0 L2125.5 1614.0 L2130.5 1612.8 L2130.5 1619.0 L2123.0 1634.0 L2116.8 1640.2 L2125.5 1649.0 L2134.2 1662.0 L2134.2 1662.0 L2143.0 1670.5 L2150.5 1676.8 L2154.2 1673.0 L2153.0 1668.0 L2161.8 1666.8 L2159.2 1673.0 L2161.8 1688.0 L2155.5 1691.8 L2159.2 1698.0 L2165.5 1695.5 L2170.5 1684.2 L2175.5 1683.0 L2171.8 1696.8 L2178.0 1700.5 L2181.8 1713.0 L2190.5 1724.2 L2200.5 1729.2 L2210.5 1731.8 L2216.8 1740.5 L2225.5 1753.0 L2231.8 1760.5 L2228.0 1765.5 L2231.8 1773.0 L2240.5 1770.5 L2248.0 1768.0 L2258.0 1766.8 L2265.5 1760.5 L2271.8 1755.5 L2275.5 1748.0 L2274.2 1735.5 L2278.0 1723.0 L2279.2 1708.0 L2278.0 1685.5 L2276.8 1668.0 L2275.5 1662.0 L2270.5 1649.0 L2263.0 1636.5 L2253.0 1621.5 L2238.0 1596.5 L2228.0 1579.0 L2223.0 1564.0 L2228.0 1557.8 L2218.0 1546.5 L2200.5 1526.5 L2188.0 1509.0 L2175.5 1489.0 L2168.0 1471.5 L2160.5 1451.5 L2153.0 1434.0 L2146.8 1424.0 L2146.0 1399.0 L2150.5 1394.0 L2149.2 1387.8 L2155.5 1375.2 L2155.5 1364.0 L2159.2 1351.5 L2168.0 1339.0 L2174.2 1329.0 L2166.8 1315.2 L2175.5 1321.5 L2183.0 1316.5 L2178.0 1309.0 L2190.5 1307.8 L2198.0 1300.2 L2208.0 1296.5 L2211.8 1289.0 L2206.8 1286.0 L2218.0 1283.5 L2223.0 1271.0 L2235.5 1262.2 L2240.5 1251.0 L2234.2 1243.5 L2243.0 1231.0 L2253.0 1216.0 L2263.0 1204.8 L2278.0 1199.8 L2293.0 1197.2 L2293.0 1181.0 L2300.5 1168.5 L2315.5 1151.0 L2310.5 1142.2 L2315.5 1148.5 L2325.5 1139.8 L2343.0 1134.8 L2355.5 1137.2 L2364.2 1116.0 L2358.0 1128.5 L2343.0 1132.2 L2358.0 1116.0 L2343.0 1118.5 L2333.0 1121.0 L2320.5 1112.2 L2335.5 1116.0 L2345.5 1108.5 L2346.8 1098.5 L2338.0 1094.8 L2318.0 1088.5 L2338.0 1091.0 L2340.5 1083.5 L2348.0 1088.5 L2363.0 1088.5 L2370.5 1076.0 L2378.0 1063.5 L2373.0 1053.5 L2365.5 1053.5 L2363.0 1066.0 L2361.8 1056.0 L2353.0 1052.2 L2343.0 1054.8 L2328.0 1058.5 L2323.0 1043.5 L2330.5 1052.2 L2340.5 1051.0 L2343.0 1043.5 L2353.0 1038.5 L2365.5 1033.5 L2358.0 1021.0 L2353.0 1008.5M2346.8 979.8 L2353.0 961.0 L2359.2 948.5 L2358.0 938.5 L2365.5 926.0 L2368.0 916.0 L2368.2 916.2 L2369.0 902.7 L2370.9 897.6 L2370.2 890.1 L2366.5 885.1 L2361.5 885.1M2367.7 861.3 L2372.7 853.8 L2375.2 843.8 L2377.7 833.8 L2382.7 827.6 L2382.7 818.8 L2389.0 815.0 L2392.8 802.5 L2391.5 790.0 L2391.2 790.0 L2392.5 783.0 L2390.0 768.0 L2387.5 760.5 L2377.5 763.0 L2372.5 758.0 L2372.5 750.5 L2377.5 745.5 L2380.0 735.5 L2379.5 723.0 L2375.0 715.5 L2380.0 718.0 L2382.5 728.0 L2385.0 740.5 L2390.0 728.0 L2400.0 715.5 L2410.0 705.5 L2420.0 698.0 L2440.0 691.8 L2455.0 684.2 L2470.0 679.2 L2480.0 674.2 L2481.2 663.0 L2478.8 653.0 L2482.5 648.0 L2485.0 660.5 L2488.8 646.8 L2491.2 648.0 L2490.0 660.5 L2495.0 659.2 L2505.0 650.5 L2512.5 641.8 L2515.0 649.2 L2512.5 653.0 L2525.0 645.5 L2535.0 640.5 L2543.8 635.5 L2541.2 625.5 L2535.0 616.8 L2526.2 613.0 L2522.5 615.5 L2528.8 619.2 L2536.2 628.0 L2533.8 634.2 L2525.0 636.8 L2517.5 634.2 L2512.5 628.0 L2507.5 626.8 L2503.8 620.5 L2497.5 613.0 L2490.0 613.0 L2482.5 611.8 L2486.2 600.5 L2490.0 591.8 L2496.2 589.2 L2493.8 586.8 L2487.5 588.0 L2483.8 580.5 L2485.0 568.0 L2483.8 558.0 L2486.2 550.5 L2486.2 543.0 L2486.2 543.0 L2492.5 525.0 L2497.5 512.5 L2507.5 507.5 L2512.5 497.5 L2525.0 492.5 L2531.2 482.5 L2533.8 467.5 L2531.2 460.0 L2536.2 451.2 L2540.0 462.5 L2547.5 470.0 L2550.0 457.5 L2555.0 447.5 L2561.2 461.2 L2565.0 450.0 L2575.0 442.5 L2580.0 432.5 L2590.0 425.0 L2598.8 420.0 L2603.8 410.0 L2597.5 405.0 L2596.2 396.2 L2587.5 392.5 L2600.0 392.5 L2615.0 385.0 L2625.0 375.0 L2630.0 362.5 L2632.5 370.0 L2645.0 365.0 L2657.5 350.0 L2670.0 332.5 L2677.5 320.0 L2672.5 310.0 L2682.5 313.8 L2687.5 306.2 L2682.5 325.0 L2675.0 345.0 L2685.0 345.0 L2697.5 340.0 L2715.0 330.0 L2737.5 321.2 L2712.5 336.2 L2702.5 342.5 L2715.0 355.0 L2700.0 350.0 L2690.0 355.0 L2680.0 370.0 L2667.5 387.5 L2660.0 395.0 L2652.5 405.0 L2646.2 420.0 L2643.8 432.5 L2650.0 437.5 L2660.0 456.2 L2670.0 452.5 L2682.5 462.5 L2698.8 458.8 L2697.5 447.5 L2710.0 435.0 L2720.0 410.0 L2725.0 395.0 L2720.0 385.0 L2730.0 375.0 L2745.0 375.0 L2750.0 367.5 L2762.5 357.5 L2787.5 332.5 L2807.5 310.0 L2830.0 290.0M2830.0 267.5 L2810.0 275.0 L2795.0 277.5 L2780.0 270.0 L2770.0 287.5 L2757.5 295.0 L2745.0 292.5 L2730.0 300.0 L2712.5 295.0 L2695.0 298.8 L2700.0 286.2 L2682.5 290.0 L2670.0 292.5 L2660.0 282.5 L2650.0 270.0 L2640.0 252.5 L2632.5 250.0 L2620.0 256.2 L2625.0 245.0 L2630.0 230.0 L2627.5 212.5 L2615.0 210.0 L2603.8 216.2 L2598.8 227.5 L2591.2 226.2 L2582.5 217.5 L2562.5 216.2 L2543.8 226.2 L2557.5 213.8 L2571.2 210.0 L2573.8 202.5 L2600.0 202.5 L2608.8 193.8 L2617.5 175.0M2507.5 173.8 L2498.8 186.2 L2490.0 195.0 L2484.0 205.0 L2468.0 220.0 L2453.0 240.0 L2440.5 270.0 L2430.5 300.0 L2420.5 325.0 L2408.0 341.2 L2393.0 356.2 L2373.0 372.5 L2358.0 387.5 L2343.0 407.5 L2330.5 427.5 L2324.2 447.5 L2325.5 462.5 L2318.0 465.0 L2303.0 480.0 L2280.5 502.5 L2280.5 502.5 L2298.0 485.0 L2308.0 470.0 L2293.0 466.2 L2305.5 462.5 L2311.8 452.5 L2320.5 445.0 L2326.8 435.0 L2330.5 425.0 L2333.0 413.8 L2340.5 406.2 L2350.5 395.0 L2359.2 382.5 L2370.5 370.0 L2383.0 362.5 L2394.2 352.5 L2405.5 335.0 L2409.2 322.5 L2415.5 305.0 L2424.2 287.5 L2429.2 270.0 L2428.0 255.0 L2436.8 237.5 L2440.5 222.5 L2448.0 207.5 L2455.5 192.5 L2468.0 175.0M2353.0 1008.5 L2348.0 994.8 L2335.5 994.8 L2326.8 999.8 L2315.5 993.5 L2308.0 988.5 L2293.0 983.5 L2281.8 983.5 L2298.0 986.0 L2313.0 988.5 L2325.5 992.2 L2333.0 988.5 L2330.5 978.5 L2318.0 976.0 L2303.0 968.5 L2315.5 973.5 L2328.0 971.0 L2325.5 961.0 L2313.0 953.5 L2293.0 943.5 L2278.0 932.2 L2298.0 939.8 L2318.0 948.5 L2320.5 938.5 L2308.0 928.5 L2280.5 926.0 L2265.5 921.0 L2263.0 916.0M2330.5 916.0 L2335.5 921.0 L2343.0 931.0 L2349.2 926.0 L2348.0 941.0 L2343.0 956.0 L2341.8 971.0 L2346.8 979.8M2361.5 885.1 L2362.7 882.6 L2364.0 875.1 L2361.5 871.4 L2355.2 867.6 L2348.9 861.3 L2342.7 855.1 L2338.9 846.3 L2333.9 841.3 L2328.9 835.1 L2326.4 828.8 L2327.7 821.3 L2331.4 813.8 L2338.9 808.8 L2343.9 802.5M2367.7 861.3 L2365.2 857.6 L2366.5 848.8 L2361.5 846.3 L2354.0 845.7 L2347.7 843.8 L2341.4 841.3 L2335.2 837.6 L2331.4 832.6 L2330.2 826.3 L2331.4 820.0 L2335.2 813.8 L2341.4 810.0 L2345.2 803.8M2353.0 1008.5 L2361.8 1023.5 L2370.5 1036.0 L2383.0 1051.0 L2391.8 1063.5 L2396.8 1078.5 L2395.5 1088.5 L2388.0 1092.2M2428.0 256.2 L2413.0 253.8 L2393.0 253.8 L2380.5 257.5 L2371.0 256.2M2270.1 886.4 L2273.8 890.1 L2271.3 897.6 L2265.1 906.4 L2263.2 916.4 L2266.3 922.7 L2273.2 916.4 L2278.2 915.2 L2286.4 921.4 L2295.1 923.3 L2303.9 922.1 L2312.7 925.2 L2315.8 928.3M2276.4 932.1 L2287.6 936.4 L2297.6 945.2 L2307.6 951.5 L2315.2 952.7 L2321.4 950.2 L2322.0 940.2 L2317.7 936.4 L2310.1 933.9 L2305.1 930.2 L2295.1 927.7 L2286.4 926.4 L2281.4 920.2M2315.2 952.7 L2323.9 957.7 L2328.9 965.2 L2328.9 971.5 L2322.7 972.7 L2323.9 977.0M2302.6 967.7 L2312.7 974.0 L2318.9 977.0M2291.4 900.1 L2295.1 905.2 L2302.6 910.2 L2308.9 912.7 L2303.9 906.4 L2298.9 897.6 L2295.1 887.6 L2293.9 877.6 L2290.1 872.6 L2296.4 867.6 L2291.4 865.1 L2286.4 861.3 L2293.9 855.1 L2295.1 850.1 L2300.1 846.3 L2306.4 842.6 L2305.1 837.6 L2308.9 833.8 L2313.9 837.6 L2316.4 846.3 L2308.9 850.1 L2305.1 855.1 L2303.9 862.6 L2307.6 865.1 L2303.9 872.6 L2303.9 877.6 L2308.9 880.1 L2305.1 885.1 L2306.4 890.1 L2310.1 887.6 L2315.2 891.4 L2322.7 893.3 L2312.7 895.8 L2310.1 898.9 L2311.4 905.2 L2316.4 910.2 L2325.2 913.9 L2332.7 906.4 L2333.9 913.9 L2332.7 918.9 L2341.4 923.9 L2338.9 930.2 L2343.9 928.9 L2349.6 925.2 L2348.3 937.7 L2343.9 946.5 L2341.4 956.5 L2341.4 967.7 L2343.9 977.0M2367.7 908.9 L2365.2 917.7 L2362.7 927.7 L2361.5 930.2 L2366.5 927.7 L2370.2 915.2 L2371.5 902.7M1955.0 193.0 L1963.0 185.0 L1970.5 178.8M1990.5 178.8 L2000.5 187.5 L2010.5 196.2 L2018.0 203.8M1764.5 1509.0 L1774.5 1511.0M1785.8 1507.8 L1799.5 1505.2M1804.5 1504.5 L1824.5 1501.0M1759.5 1521.5 L1762.0 1532.8 L1759.5 1541.5 L1754.5 1546.5M1414.5 1594.5 L1435.8 1580.2M1354.5 1635.2 L1367.0 1628.5M1322.0 1656.5 L1344.5 1641.5M1298.2 1788.0 L1289.5 1773.0 L1283.2 1758.0 L1280.8 1740.5 L1277.0 1729.2 L1283.2 1720.5 L1284.0 1711.8 L1270.8 1709.2 L1265.8 1698.0 L1282.0 1706.8 L1289.5 1698.0 L1294.5 1685.5 L1285.8 1674.2 L1289.5 1671.8 L1299.5 1671.8 L1305.8 1663.0 L1302.0 1658.0M2346.8 1903.5 L2366.8 1911.8M2190.5 1940.0 L2213.0 1937.2 L2226.8 1940.0M2381.8 1096.5 L2374.2 1102.2M235.0 175.0 L245.0 188.8 L260.0 202.5 L272.5 212.5 L280.0 216.8 L285.0 212.5 L289.5 214.5 L288.8 195.0 L286.2 185.0 L286.2 175.0ZM2665.0 265.0 L2668.8 245.0 L2672.5 236.2 L2677.5 245.0 L2680.0 255.0 L2690.0 260.0 L2700.0 257.5 L2720.0 257.5 L2740.0 247.5 L2762.5 238.0 L2763.8 242.5 L2752.5 257.5 L2750.0 267.5 L2757.5 271.2 L2750.0 275.0 L2740.0 273.8 L2735.0 277.5 L2730.0 270.0 L2722.5 272.5 L2710.0 275.0 L2700.0 270.0 L2695.0 266.2 L2690.0 272.5 L2680.0 271.2 L2675.0 265.0ZM2830.0 177.5 L2805.0 183.8 L2798.8 207.5 L2793.8 242.5 L2797.5 260.0 L2810.0 271.2 L2830.0 263.8ZM2105.5 1953.0 L2115.5 1941.0 L2133.0 1930.5 L2163.0 1921.8 L2180.5 1911.8 L2198.0 1906.0 L2228.0 1905.0 L2245.5 1901.0 L2254.2 1906.8 L2265.5 1901.8 L2284.2 1897.5 L2293.0 1903.0 L2303.0 1905.0 L2318.0 1901.8 L2333.0 1905.5 L2348.0 1911.8 L2358.0 1920.5 L2375.5 1926.8 L2400.5 1921.8 L2418.0 1923.0 L2443.0 1929.2 L2463.0 1938.0 L2473.0 1945.5 L2493.0 1953.0ZM2405.5 1910.5 L2425.5 1905.5 L2440.5 1914.2 L2463.0 1925.5 L2476.8 1930.5 L2475.5 1936.8 L2463.0 1931.8 L2440.5 1918.0 L2425.5 1910.5 L2410.5 1913.0ZM2385.0 750.5 L2392.5 733.0 L2405.0 723.0 L2420.0 713.0 L2435.0 705.5 L2450.0 696.8 L2445.0 705.5 L2442.5 713.0 L2455.0 705.5 L2470.0 697.5 L2460.0 708.0 L2445.0 721.8 L2430.0 733.0 L2417.5 740.5 L2400.0 748.0 L2390.0 751.8ZM2334.2 1651.8 L2348.0 1660.5 L2353.0 1660.5 L2370.5 1650.5 L2395.5 1640.5 L2394.2 1635.5 L2378.0 1641.8 L2365.5 1645.5 L2358.0 1644.2 L2354.2 1640.5 L2353.0 1651.8 L2348.0 1655.5ZM2390.5 1625.5 L2398.0 1621.8 L2413.0 1621.0 L2428.0 1630.5 L2443.0 1638.0 L2450.5 1650.5 L2445.5 1663.0 L2445.5 1680.5 L2433.0 1674.2 L2440.5 1665.5 L2440.5 1655.5 L2436.8 1643.0 L2423.0 1633.0 L2410.5 1626.0 L2395.5 1625.5ZM2398.0 1735.0 L2413.0 1738.0 L2418.0 1748.0 L2431.8 1759.2 L2438.0 1775.5 L2433.0 1784.2 L2421.8 1790.5 L2410.5 1783.0 L2394.2 1775.5 L2401.8 1770.5 L2399.2 1761.8 L2403.0 1748.0ZM2424.2 1794.2 L2440.5 1786.8 L2451.8 1795.5 L2458.0 1810.5 L2456.8 1820.5 L2445.5 1821.8 L2440.5 1813.0 L2433.0 1801.8ZM2438.0 1736.8 L2450.5 1731.8 L2455.5 1734.2 L2443.0 1740.0ZM2476.8 1698.0 L2480.5 1693.0 L2485.5 1696.8 L2485.5 1703.0ZM143.8 1411.5 L150.0 1410.2 L152.5 1419.0 L150.0 1430.2 L146.2 1431.0 L144.5 1421.5ZM291.2 1521.5 L297.5 1515.2 L300.0 1506.5 L303.8 1507.8 L305.0 1519.0 L300.0 1529.0ZM407.5 1454.0 L413.8 1455.2 L418.8 1469.0 L426.2 1476.5 L425.0 1492.8 L417.5 1484.0 L410.0 1469.0ZM456.2 1509.0 L465.0 1491.5 L476.2 1490.2 L477.5 1504.0 L468.8 1520.2 L463.8 1517.8ZM343.8 1554.0 L347.5 1549.0 L353.8 1549.0 L352.5 1559.0 L356.2 1565.2 L350.0 1564.0ZM463.8 1649.0 L470.0 1642.8 L481.2 1656.5 L482.5 1671.5 L470.0 1671.5ZM413.8 1768.0 L421.2 1758.0 L428.8 1738.0 L430.0 1748.0 L423.8 1763.0 L420.0 1778.0 L423.8 1786.8 L432.5 1790.5 L442.5 1801.8 L441.2 1804.2 L430.0 1793.0 L422.5 1788.0 L418.8 1778.0ZM490.0 1714.2 L495.0 1701.8 L500.0 1700.5 L498.8 1706.8 L492.5 1715.5ZM508.8 1770.5 L512.5 1767.5 L517.5 1773.0 L517.5 1782.5 L512.5 1780.5ZM546.2 1824.2 L549.5 1823.0 L552.5 1835.5 L548.8 1836.8ZM2510.0 665.5 L2517.5 659.2 L2523.8 659.2 L2518.8 664.2 L2512.5 668.0ZM2537.5 661.8 L2546.2 653.0 L2551.2 659.2 L2546.2 663.0ZM2626.0 1751.8 L2630.2 1749.2 L2634.0 1754.2 L2631.5 1763.0 L2626.5 1762.5ZM2756.5 1889.2 L2761.5 1886.8 L2766.5 1890.5 L2759.0 1895.5ZM2726.5 1929.2 L2734.0 1919.2 L2744.0 1918.0 L2754.0 1916.8 L2759.0 1905.5 L2764.0 1904.2 L2766.0 1913.0 L2760.2 1929.2 L2746.5 1935.5 L2730.2 1939.2ZM130.0 1088.5 L136.2 1087.2 L137.5 1092.2 L131.2 1092.2ZM140.0 1096.0 L150.0 1094.8 L152.5 1101.0 L145.0 1103.5 L141.2 1101.0ZM156.2 1094.8 L165.0 1099.8 L175.0 1101.0 L175.0 1106.0 L165.0 1105.5 L157.5 1101.0ZM157.5 1147.2 L165.0 1148.5 L166.2 1154.8 L160.0 1154.8ZM211.2 1151.0 L217.5 1152.2 L223.8 1159.8 L225.0 1166.0 L217.5 1163.5 L213.8 1156.0ZM202.5 1177.2 L207.0 1176.5 L213.8 1192.2 L210.0 1194.8 L205.0 1189.8Z"/>
<path class="coast" style="stroke-width:7" d="M2477.0 1703.0 L2479.5 1694.2 L2494.0 1703.0 L2504.0 1704.2 L2520.2 1714.2 L2522.0 1728.0 L2523.5 1743.0 L2512.8 1735.0M2547.8 1734.2 L2554.0 1735.5 L2566.5 1750.5 L2581.5 1760.5 L2579.0 1764.2 L2570.2 1766.0M2546.5 1803.0 L2556.5 1805.5 L2566.5 1811.0 L2572.8 1811.8M2587.8 1791.8 L2596.5 1803.0 L2606.5 1815.5 L2610.2 1821.8 L2601.5 1821.8 L2617.8 1824.2 L2627.8 1831.8 L2630.2 1836.8M2659.0 1829.2 L2664.0 1835.5 L2679.0 1834.2 L2682.8 1831.8 L2689.0 1828.0 L2694.0 1840.5 L2686.5 1853.0 L2679.0 1861.8 L2672.8 1869.2M2734.0 1834.2 L2735.2 1839.2 L2749.0 1835.0 L2759.0 1836.8 L2761.5 1834.2M2792.8 1859.2 L2806.5 1858.0 L2799.0 1864.2 L2792.8 1859.2M2810.2 1845.5 L2824.0 1851.8M2480.2 1937.5 L2489.0 1938.5 L2496.5 1941.8M2279.2 1751.8 L2275.5 1763.0 L2268.0 1775.5 L2263.0 1783.0M2250.5 1790.0 L2256.8 1788.5M2237.5 1800.0 L2247.5 1795.0M2220.0 1801.8 L2226.0 1805.5M2210.0 1811.0 L2214.5 1806.8M2198.8 1818.0 L2203.8 1815.5M2206.8 1542.8 L2214.2 1561.5 L2225.5 1579.0 L2238.0 1599.0 L2253.0 1621.5 L2261.8 1634.0M2208.0 1544.0 L2218.0 1551.5 L2226.8 1557.8 L2220.5 1566.5"/>
<path d="M288.8 181.2 L295.0 181.2 L296.2 190.0 L291.2 202.5 L286.2 202.5 L287.0 190.0ZM298.8 205.0 L305.0 207.5 L307.5 216.2 L302.5 218.8 L298.0 212.5ZM307.5 203.8 L316.2 205.0 L316.2 211.2 L310.0 212.5ZM307.5 182.5 L316.2 181.2 L317.5 187.5 L310.0 188.8ZM311.2 221.2 L320.0 223.8 L321.2 235.0 L323.8 245.0 L320.0 252.5 L312.5 252.5 L310.0 242.5 L307.5 232.5ZM2742.5 182.5 L2750.0 181.2 L2752.0 192.5 L2745.0 195.0ZM2610.0 407.5 L2617.5 410.0 L2615.0 420.0 L2610.0 418.8ZM2812.5 242.5 L2821.2 240.0 L2821.2 257.5 L2813.8 256.2ZM2629.5 191.2 L2633.8 191.2 L2634.5 210.0 L2630.0 210.0Z" fill="#000" stroke="#000" stroke-width="3" stroke-linejoin="round"/>
</g>
<rect x="30.45" y="178.45" width="2790.05" height="1763.0" fill="none" stroke="#000" stroke-width="3.3"/>
<rect x="2994.2" y="1597.22" width="73.70" height="134.98" fill="#053061"/>
<rect x="2994.2" y="1462.84" width="73.70" height="134.98" fill="#246aae"/>
<rect x="2994.2" y="1328.46" width="73.70" height="134.98" fill="#569fc9"/>
<rect x="2994.2" y="1194.08" width="73.70" height="134.98" fill="#a7d0e4"/>
<rect x="2994.2" y="1059.70" width="73.70" height="134.98" fill="#e1edf3"/>
<rect x="2994.2" y="925.32" width="73.70" height="134.98" fill="#fae7dc"/>
<rect x="2994.2" y="790.94" width="73.70" height="134.98" fill="#f7b799"/>
<rect x="2994.2" y="656.56" width="73.70" height="134.98" fill="#dd7059"/>
<rect x="2994.2" y="522.18" width="73.70" height="134.98" fill="#b61f2e"/>
<rect x="2994.2" y="387.80" width="73.70" height="134.98" fill="#67001f"/>
<polygon points="2994.2,388.3 3031.05,320.2 3067.9,388.3" fill="#67001f"/>
<polygon points="2994.2,1731.1 3031.05,1799.5 3067.9,1731.1" fill="#053061"/>
<polygon points="2994.2,387.8 3031.05,320.2 3067.9,387.8 3067.9,1731.6 3031.05,1799.5 2994.2,1731.6" fill="none" stroke="#000" stroke-width="3.3" stroke-linejoin="miter"/>
<line x1="3067.9" y1="1731.60" x2="3084.10" y2="1731.60" stroke="#000" stroke-width="3.3"/>
<text x="3098" y="1747.20" font-size="41.67">0.0</text>
<line x1="3067.9" y1="1597.22" x2="3084.10" y2="1597.22" stroke="#000" stroke-width="3.3"/>
<text x="3098" y="1612.82" font-size="41.67">0.1</text>
<line x1="3067.9" y1="1462.84" x2="3084.10" y2="1462.84" stroke="#000" stroke-width="3.3"/>
<text x="3098" y="1478.44" font-size="41.67">0.2</text>
<line x1="3067.9" y1="1328.46" x2="3084.10" y2="1328.46" stroke="#000" stroke-width="3.3"/>
<text x="3098" y="1344.06" font-size="41.67">0.3</text>
<line x1="3067.9" y1="1194.08" x2="3084.10" y2="1194.08" stroke="#000" stroke-width="3.3"/>
<text x="3098" y="1209.68" font-size="41.67">0.4</text>
<line x1="3067.9" y1="1059.70" x2="3084.10" y2="1059.70" stroke="#000" stroke-width="3.3"/>
<text x="3098" y="1075.30" font-size="41.67">0.5</text>
<line x1="3067.9" y1="925.32" x2="3084.10" y2="925.32" stroke="#000" stroke-width="3.3"/>
<text x="3098" y="940.92" font-size="41.67">0.6</text>
<line x1="3067.9" y1="790.94" x2="3084.10" y2="790.94" stroke="#000" stroke-width="3.3"/>
<text x="3098" y="806.54" font-size="41.67">0.7</text>
<line x1="3067.9" y1="656.56" x2="3084.10" y2="656.56" stroke="#000" stroke-width="3.3"/>
<text x="3098" y="672.16" font-size="41.67">0.8</text>
<line x1="3067.9" y1="522.18" x2="3084.10" y2="522.18" stroke="#000" stroke-width="3.3"/>
<text x="3098" y="537.78" font-size="41.67">0.9</text>
<line x1="3067.9" y1="387.80" x2="3084.10" y2="387.80" stroke="#000" stroke-width="3.3"/>
<text x="3098" y="403.40" font-size="41.67">1.0</text>
<text transform="translate(3211.5,1061.8) rotate(-90)" font-size="41.67" text-anchor="middle">Hit Rate</text>
</svg></body></html>
